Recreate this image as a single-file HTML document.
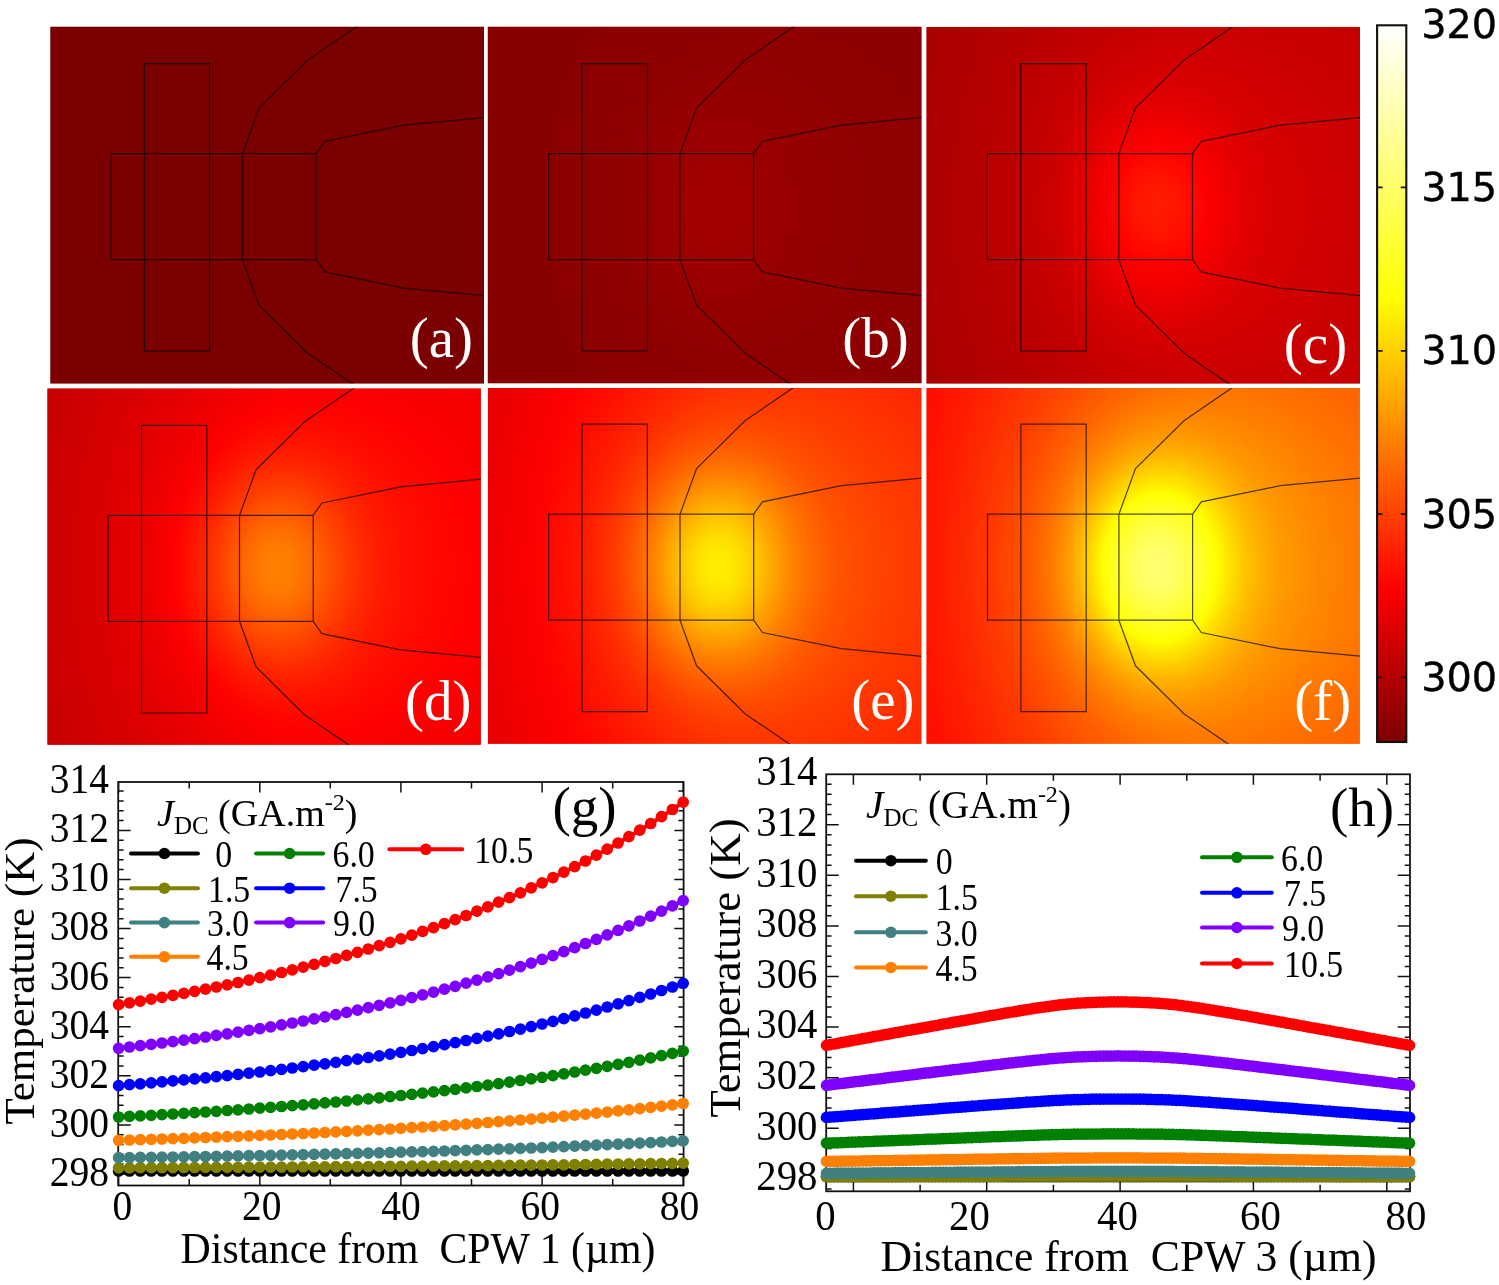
<!DOCTYPE html>
<html lang="en"><head><meta charset="utf-8"><title>Temperature maps</title><style>
html,body{margin:0;padding:0;background:#fff;overflow:hidden}
svg{display:block}
text{font-family:"Liberation Serif",serif;fill:#000}
.pl{font-size:57px;fill:#fff;text-anchor:middle}
.pg{font-size:55px}
.cb{font-family:"DejaVu Sans",sans-serif;font-size:39.8px;fill:#000;stroke:#000;stroke-width:0.4px}
.tl{font-size:39.5px}
.at{font-size:41.8px}
.yt{font-size:43px}
.tlh{font-size:40.8px}
.ath{font-size:43.65px}
.yth{font-size:44.8px}
.lth{font-size:39.2px}
.lt{font-size:38px}
.sub{font-size:25px}
.sup{font-size:24px}
.ll{font-size:33.8px}
</style></head><body>
<svg width="1499" height="1285" viewBox="0 0 1499 1285">
<rect width="1499" height="1285" fill="#fff"/>
<defs>
<linearGradient id="fb" gradientUnits="userSpaceOnUse" x1="-94.4" y1="0" x2="338.6" y2="0"><stop offset="0" stop-color="#434343"/><stop offset="1" stop-color="#656565"/></linearGradient>
<radialGradient id="f1" gradientUnits="userSpaceOnUse" cx="0" cy="0" r="1" gradientTransform="translate(171.4 142.9) scale(558.1 688.2)"><stop offset="0.0000" stop-color="#fff" stop-opacity="0.3720"/><stop offset="0.0417" stop-color="#fff" stop-opacity="0.3673"/><stop offset="0.0833" stop-color="#fff" stop-opacity="0.3536"/><stop offset="0.1250" stop-color="#fff" stop-opacity="0.3320"/><stop offset="0.1667" stop-color="#fff" stop-opacity="0.3038"/><stop offset="0.2083" stop-color="#fff" stop-opacity="0.2711"/><stop offset="0.2500" stop-color="#fff" stop-opacity="0.2359"/><stop offset="0.2917" stop-color="#fff" stop-opacity="0.2001"/><stop offset="0.3333" stop-color="#fff" stop-opacity="0.1655"/><stop offset="0.3750" stop-color="#fff" stop-opacity="0.1335"/><stop offset="0.4167" stop-color="#fff" stop-opacity="0.1049"/><stop offset="0.4583" stop-color="#fff" stop-opacity="0.0804"/><stop offset="0.5000" stop-color="#fff" stop-opacity="0.0601"/><stop offset="0.5417" stop-color="#fff" stop-opacity="0.0438"/><stop offset="0.5833" stop-color="#fff" stop-opacity="0.0311"/><stop offset="0.6250" stop-color="#fff" stop-opacity="0.0216"/><stop offset="0.6667" stop-color="#fff" stop-opacity="0.0146"/><stop offset="0.7083" stop-color="#fff" stop-opacity="0.0096"/><stop offset="0.7500" stop-color="#fff" stop-opacity="0.0062"/><stop offset="0.7917" stop-color="#fff" stop-opacity="0.0039"/><stop offset="0.8333" stop-color="#fff" stop-opacity="0.0024"/><stop offset="0.8750" stop-color="#fff" stop-opacity="0.0014"/><stop offset="0.9167" stop-color="#fff" stop-opacity="0.0008"/><stop offset="0.9583" stop-color="#fff" stop-opacity="0.0005"/><stop offset="1.0000" stop-color="#fff" stop-opacity="0.0000"/></radialGradient>
<radialGradient id="f2" gradientUnits="userSpaceOnUse" cx="0" cy="0" r="1" gradientTransform="translate(136.1 142.9) scale(186.0 242.2)"><stop offset="0.0000" stop-color="#fff" stop-opacity="0.9870"/><stop offset="0.0417" stop-color="#fff" stop-opacity="0.9746"/><stop offset="0.0833" stop-color="#fff" stop-opacity="0.9383"/><stop offset="0.1250" stop-color="#fff" stop-opacity="0.8807"/><stop offset="0.1667" stop-color="#fff" stop-opacity="0.8061"/><stop offset="0.2083" stop-color="#fff" stop-opacity="0.7193"/><stop offset="0.2500" stop-color="#fff" stop-opacity="0.6258"/><stop offset="0.2917" stop-color="#fff" stop-opacity="0.5309"/><stop offset="0.3333" stop-color="#fff" stop-opacity="0.4391"/><stop offset="0.3750" stop-color="#fff" stop-opacity="0.3541"/><stop offset="0.4167" stop-color="#fff" stop-opacity="0.2784"/><stop offset="0.4583" stop-color="#fff" stop-opacity="0.2134"/><stop offset="0.5000" stop-color="#fff" stop-opacity="0.1595"/><stop offset="0.5417" stop-color="#fff" stop-opacity="0.1163"/><stop offset="0.5833" stop-color="#fff" stop-opacity="0.0826"/><stop offset="0.6250" stop-color="#fff" stop-opacity="0.0572"/><stop offset="0.6667" stop-color="#fff" stop-opacity="0.0387"/><stop offset="0.7083" stop-color="#fff" stop-opacity="0.0255"/><stop offset="0.7500" stop-color="#fff" stop-opacity="0.0163"/><stop offset="0.7917" stop-color="#fff" stop-opacity="0.0102"/><stop offset="0.8333" stop-color="#fff" stop-opacity="0.0062"/><stop offset="0.8750" stop-color="#fff" stop-opacity="0.0037"/><stop offset="0.9167" stop-color="#fff" stop-opacity="0.0022"/><stop offset="0.9583" stop-color="#fff" stop-opacity="0.0012"/><stop offset="1.0000" stop-color="#fff" stop-opacity="0.0000"/></radialGradient>
<filter id="cm_a" x="0" y="0" width="100%" height="100%" color-interpolation-filters="sRGB"><feComponentTransfer><feFuncR type="table" tableValues="0.486 0.486 0.486 0.486 0.486 0.486 0.486 0.486 0.486 0.486 0.486 0.486 0.486 0.486 0.486 0.486 0.486 0.486 0.486 0.486 0.486 0.486 0.486 0.486 0.486 0.486 0.486 0.486 0.486 0.486 0.486 0.486 0.486 0.486 0.486 0.486 0.486 0.486 0.486 0.486 0.486 0.486 0.486 0.486 0.486 0.486 0.486 0.486 0.486 0.486 0.486 0.486 0.486 0.486 0.486 0.486 0.486 0.486 0.486 0.486 0.486 0.486 0.486 0.486 0.486"/><feFuncG type="table" tableValues="0.000 0.000 0.000 0.000 0.000 0.000 0.000 0.000 0.000 0.000 0.000 0.000 0.000 0.000 0.000 0.000 0.000 0.000 0.000 0.000 0.000 0.000 0.000 0.000 0.000 0.000 0.000 0.000 0.000 0.000 0.000 0.000 0.000 0.000 0.000 0.000 0.000 0.000 0.000 0.000 0.000 0.000 0.000 0.000 0.000 0.000 0.000 0.000 0.000 0.000 0.000 0.000 0.000 0.000 0.000 0.000 0.000 0.000 0.000 0.000 0.000 0.000 0.000 0.000 0.000"/><feFuncB type="table" tableValues="0.000 0.000 0.000 0.000 0.000 0.000 0.000 0.000 0.000 0.000 0.000 0.000 0.000 0.000 0.000 0.000 0.000 0.000 0.000 0.000 0.000 0.000 0.000 0.000 0.000 0.000 0.000 0.000 0.000 0.000 0.000 0.000 0.000 0.000 0.000 0.000 0.000 0.000 0.000 0.000 0.000 0.000 0.000 0.000 0.000 0.000 0.000 0.000 0.000 0.000 0.000 0.000 0.000 0.000 0.000 0.000 0.000 0.000 0.000 0.000 0.000 0.000 0.000 0.000 0.000"/></feComponentTransfer></filter>
<radialGradient id="ul_a" gradientUnits="userSpaceOnUse" cx="0" cy="0" r="1" gradientTransform="translate(280.6 206.5) scale(260.0 338.0)"><stop offset="0.000" stop-color="#7c0000"/><stop offset="0.050" stop-color="#7c0000"/><stop offset="0.100" stop-color="#7c0000"/><stop offset="0.150" stop-color="#7c0000"/><stop offset="0.200" stop-color="#7c0000"/><stop offset="0.250" stop-color="#7c0000"/><stop offset="0.300" stop-color="#7c0000"/><stop offset="0.350" stop-color="#7c0000"/><stop offset="0.400" stop-color="#7c0000"/><stop offset="0.450" stop-color="#7c0000"/><stop offset="0.500" stop-color="#7c0000"/><stop offset="0.550" stop-color="#7c0000"/><stop offset="0.600" stop-color="#7c0000"/><stop offset="0.650" stop-color="#7c0000"/><stop offset="0.700" stop-color="#7c0000"/><stop offset="0.750" stop-color="#7c0000"/><stop offset="0.800" stop-color="#7c0000"/><stop offset="0.850" stop-color="#7c0000"/><stop offset="0.900" stop-color="#7c0000"/><stop offset="0.950" stop-color="#7c0000"/><stop offset="1.000" stop-color="#7c0000"/></radialGradient>
<clipPath id="cp_a"><rect x="50.4" y="26.8" width="433.6" height="356.6"/></clipPath>
<filter id="cm_b" x="0" y="0" width="100%" height="100%" color-interpolation-filters="sRGB"><feComponentTransfer><feFuncR type="table" tableValues="0.486 0.489 0.491 0.494 0.496 0.498 0.501 0.503 0.506 0.508 0.510 0.513 0.515 0.518 0.520 0.522 0.525 0.527 0.530 0.532 0.535 0.537 0.539 0.542 0.544 0.547 0.549 0.551 0.554 0.556 0.559 0.561 0.564 0.566 0.568 0.571 0.573 0.576 0.578 0.580 0.583 0.585 0.588 0.590 0.592 0.595 0.597 0.600 0.602 0.605 0.607 0.609 0.612 0.614 0.617 0.619 0.621 0.624 0.626 0.629 0.631 0.634 0.636 0.638 0.641"/><feFuncG type="table" tableValues="0.000 0.000 0.000 0.000 0.000 0.000 0.000 0.000 0.000 0.000 0.000 0.000 0.000 0.000 0.000 0.000 0.000 0.000 0.000 0.000 0.000 0.000 0.000 0.000 0.000 0.000 0.000 0.000 0.000 0.000 0.000 0.000 0.000 0.000 0.000 0.000 0.000 0.000 0.000 0.000 0.000 0.000 0.000 0.000 0.000 0.000 0.000 0.000 0.000 0.000 0.000 0.000 0.000 0.000 0.000 0.000 0.000 0.000 0.000 0.000 0.000 0.000 0.000 0.000 0.000"/><feFuncB type="table" tableValues="0.000 0.000 0.000 0.000 0.000 0.000 0.000 0.000 0.000 0.000 0.000 0.000 0.000 0.000 0.000 0.000 0.000 0.000 0.000 0.000 0.000 0.000 0.000 0.000 0.000 0.000 0.000 0.000 0.000 0.000 0.000 0.000 0.000 0.000 0.000 0.000 0.000 0.000 0.000 0.000 0.000 0.000 0.000 0.000 0.000 0.000 0.000 0.000 0.000 0.000 0.000 0.000 0.000 0.000 0.000 0.000 0.000 0.000 0.000 0.000 0.000 0.000 0.000 0.000 0.000"/></feComponentTransfer></filter>
<radialGradient id="ul_b" gradientUnits="userSpaceOnUse" cx="0" cy="0" r="1" gradientTransform="translate(718.1 206.5) scale(260.0 338.0)"><stop offset="0.000" stop-color="#a30000"/><stop offset="0.050" stop-color="#a30000"/><stop offset="0.100" stop-color="#a10000"/><stop offset="0.150" stop-color="#9f0000"/><stop offset="0.200" stop-color="#9c0000"/><stop offset="0.250" stop-color="#990000"/><stop offset="0.300" stop-color="#960000"/><stop offset="0.350" stop-color="#940000"/><stop offset="0.400" stop-color="#920000"/><stop offset="0.450" stop-color="#910000"/><stop offset="0.500" stop-color="#900000"/><stop offset="0.550" stop-color="#8f0000"/><stop offset="0.600" stop-color="#8f0000"/><stop offset="0.650" stop-color="#8e0000"/><stop offset="0.700" stop-color="#8e0000"/><stop offset="0.750" stop-color="#8d0000"/><stop offset="0.800" stop-color="#8d0000"/><stop offset="0.850" stop-color="#8c0000"/><stop offset="0.900" stop-color="#8c0000"/><stop offset="0.950" stop-color="#8c0000"/><stop offset="1.000" stop-color="#8b0000"/></radialGradient>
<clipPath id="cp_b"><rect x="487.8" y="26.8" width="433.7" height="356.5"/></clipPath>
<filter id="cm_c" x="0" y="0" width="100%" height="100%" color-interpolation-filters="sRGB"><feComponentTransfer><feFuncR type="table" tableValues="0.486 0.496 0.506 0.515 0.525 0.535 0.544 0.554 0.564 0.573 0.583 0.592 0.602 0.612 0.621 0.631 0.641 0.650 0.660 0.670 0.679 0.689 0.699 0.708 0.718 0.728 0.737 0.747 0.757 0.766 0.776 0.786 0.795 0.805 0.815 0.824 0.834 0.844 0.853 0.863 0.873 0.882 0.892 0.902 0.911 0.921 0.930 0.940 0.950 0.959 0.969 0.979 0.988 0.998 1.000 1.000 1.000 1.000 1.000 1.000 1.000 1.000 1.000 1.000 1.000"/><feFuncG type="table" tableValues="0.000 0.000 0.000 0.000 0.000 0.000 0.000 0.000 0.000 0.000 0.000 0.000 0.000 0.000 0.000 0.000 0.000 0.000 0.000 0.000 0.000 0.000 0.000 0.000 0.000 0.000 0.000 0.000 0.000 0.000 0.000 0.000 0.000 0.000 0.000 0.000 0.000 0.000 0.000 0.000 0.000 0.000 0.000 0.000 0.000 0.000 0.000 0.000 0.000 0.000 0.000 0.000 0.000 0.000 0.008 0.018 0.028 0.038 0.048 0.059 0.069 0.079 0.089 0.099 0.109"/><feFuncB type="table" tableValues="0.000 0.000 0.000 0.000 0.000 0.000 0.000 0.000 0.000 0.000 0.000 0.000 0.000 0.000 0.000 0.000 0.000 0.000 0.000 0.000 0.000 0.000 0.000 0.000 0.000 0.000 0.000 0.000 0.000 0.000 0.000 0.000 0.000 0.000 0.000 0.000 0.000 0.000 0.000 0.000 0.000 0.000 0.000 0.000 0.000 0.000 0.000 0.000 0.000 0.000 0.000 0.000 0.000 0.000 0.000 0.000 0.000 0.000 0.000 0.000 0.000 0.000 0.000 0.000 0.000"/></feComponentTransfer></filter>
<radialGradient id="ul_c" gradientUnits="userSpaceOnUse" cx="0" cy="0" r="1" gradientTransform="translate(1156.9 206.5) scale(260.0 338.0)"><stop offset="0.000" stop-color="#ff1b00"/><stop offset="0.050" stop-color="#ff1800"/><stop offset="0.100" stop-color="#ff1200"/><stop offset="0.150" stop-color="#ff0800"/><stop offset="0.200" stop-color="#fb0000"/><stop offset="0.250" stop-color="#f00000"/><stop offset="0.300" stop-color="#e50000"/><stop offset="0.350" stop-color="#dd0000"/><stop offset="0.400" stop-color="#d60000"/><stop offset="0.450" stop-color="#d10000"/><stop offset="0.500" stop-color="#cd0000"/><stop offset="0.550" stop-color="#ca0000"/><stop offset="0.600" stop-color="#c70000"/><stop offset="0.650" stop-color="#c50000"/><stop offset="0.700" stop-color="#c30000"/><stop offset="0.750" stop-color="#c10000"/><stop offset="0.800" stop-color="#bf0000"/><stop offset="0.850" stop-color="#bd0000"/><stop offset="0.900" stop-color="#bc0000"/><stop offset="0.950" stop-color="#ba0000"/><stop offset="1.000" stop-color="#b90000"/></radialGradient>
<clipPath id="cp_c"><rect x="926.5" y="27.0" width="433.5" height="356.5"/></clipPath>
<filter id="cm_d" x="0" y="0" width="100%" height="100%" color-interpolation-filters="sRGB"><feComponentTransfer><feFuncR type="table" tableValues="0.486 0.502 0.518 0.533 0.549 0.565 0.580 0.596 0.612 0.628 0.643 0.659 0.675 0.690 0.706 0.722 0.737 0.753 0.769 0.784 0.800 0.816 0.831 0.847 0.863 0.879 0.894 0.910 0.926 0.941 0.957 0.973 0.988 1.000 1.000 1.000 1.000 1.000 1.000 1.000 1.000 1.000 1.000 1.000 1.000 1.000 1.000 1.000 1.000 1.000 1.000 1.000 1.000 1.000 1.000 1.000 1.000 1.000 1.000 1.000 1.000 1.000 1.000 1.000 1.000"/><feFuncG type="table" tableValues="0.000 0.000 0.000 0.000 0.000 0.000 0.000 0.000 0.000 0.000 0.000 0.000 0.000 0.000 0.000 0.000 0.000 0.000 0.000 0.000 0.000 0.000 0.000 0.000 0.000 0.000 0.000 0.000 0.000 0.000 0.000 0.000 0.000 0.004 0.021 0.037 0.053 0.070 0.086 0.103 0.119 0.135 0.152 0.168 0.185 0.201 0.217 0.234 0.250 0.267 0.283 0.299 0.316 0.332 0.349 0.365 0.381 0.398 0.414 0.431 0.447 0.463 0.480 0.496 0.513"/><feFuncB type="table" tableValues="0.000 0.000 0.000 0.000 0.000 0.000 0.000 0.000 0.000 0.000 0.000 0.000 0.000 0.000 0.000 0.000 0.000 0.000 0.000 0.000 0.000 0.000 0.000 0.000 0.000 0.000 0.000 0.000 0.000 0.000 0.000 0.000 0.000 0.000 0.000 0.000 0.000 0.000 0.000 0.000 0.000 0.000 0.000 0.000 0.000 0.000 0.000 0.000 0.000 0.000 0.000 0.000 0.000 0.000 0.000 0.000 0.000 0.000 0.000 0.000 0.000 0.000 0.000 0.000 0.000"/></feComponentTransfer></filter>
<radialGradient id="ul_d" gradientUnits="userSpaceOnUse" cx="0" cy="0" r="1" gradientTransform="translate(277.6 568.2) scale(260.0 338.0)"><stop offset="0.000" stop-color="#ff8100"/><stop offset="0.050" stop-color="#ff7d00"/><stop offset="0.100" stop-color="#ff7200"/><stop offset="0.150" stop-color="#ff6200"/><stop offset="0.200" stop-color="#ff4f00"/><stop offset="0.250" stop-color="#ff3c00"/><stop offset="0.300" stop-color="#ff2a00"/><stop offset="0.350" stop-color="#ff1b00"/><stop offset="0.400" stop-color="#ff1000"/><stop offset="0.450" stop-color="#ff0700"/><stop offset="0.500" stop-color="#ff0000"/><stop offset="0.550" stop-color="#fa0000"/><stop offset="0.600" stop-color="#f60000"/><stop offset="0.650" stop-color="#f20000"/><stop offset="0.700" stop-color="#ef0000"/><stop offset="0.750" stop-color="#ec0000"/><stop offset="0.800" stop-color="#e90000"/><stop offset="0.850" stop-color="#e60000"/><stop offset="0.900" stop-color="#e30000"/><stop offset="0.950" stop-color="#e10000"/><stop offset="1.000" stop-color="#df0000"/></radialGradient>
<clipPath id="cp_d"><rect x="47.4" y="388.5" width="433.4" height="356.3"/></clipPath>
<filter id="cm_e" x="0" y="0" width="100%" height="100%" color-interpolation-filters="sRGB"><feComponentTransfer><feFuncR type="table" tableValues="0.486 0.508 0.531 0.553 0.575 0.597 0.619 0.641 0.664 0.686 0.708 0.730 0.752 0.774 0.797 0.819 0.841 0.863 0.885 0.907 0.930 0.952 0.974 0.996 1.000 1.000 1.000 1.000 1.000 1.000 1.000 1.000 1.000 1.000 1.000 1.000 1.000 1.000 1.000 1.000 1.000 1.000 1.000 1.000 1.000 1.000 1.000 1.000 1.000 1.000 1.000 1.000 1.000 1.000 1.000 1.000 1.000 1.000 1.000 1.000 1.000 1.000 1.000 1.000 1.000"/><feFuncG type="table" tableValues="0.000 0.000 0.000 0.000 0.000 0.000 0.000 0.000 0.000 0.000 0.000 0.000 0.000 0.000 0.000 0.000 0.000 0.000 0.000 0.000 0.000 0.000 0.000 0.000 0.019 0.042 0.065 0.088 0.112 0.135 0.158 0.181 0.204 0.227 0.251 0.274 0.297 0.320 0.343 0.366 0.389 0.413 0.436 0.459 0.482 0.505 0.528 0.552 0.575 0.598 0.621 0.644 0.667 0.690 0.714 0.737 0.760 0.783 0.806 0.829 0.853 0.876 0.899 0.922 0.945"/><feFuncB type="table" tableValues="0.000 0.000 0.000 0.000 0.000 0.000 0.000 0.000 0.000 0.000 0.000 0.000 0.000 0.000 0.000 0.000 0.000 0.000 0.000 0.000 0.000 0.000 0.000 0.000 0.000 0.000 0.000 0.000 0.000 0.000 0.000 0.000 0.000 0.000 0.000 0.000 0.000 0.000 0.000 0.000 0.000 0.000 0.000 0.000 0.000 0.000 0.000 0.000 0.000 0.000 0.000 0.000 0.000 0.000 0.000 0.000 0.000 0.000 0.000 0.000 0.000 0.000 0.000 0.000 0.000"/></feComponentTransfer></filter>
<radialGradient id="ul_e" gradientUnits="userSpaceOnUse" cx="0" cy="0" r="1" gradientTransform="translate(718.1 567.1) scale(260.0 338.0)"><stop offset="0.000" stop-color="#ffef00"/><stop offset="0.050" stop-color="#ffe900"/><stop offset="0.100" stop-color="#ffda00"/><stop offset="0.150" stop-color="#ffc300"/><stop offset="0.200" stop-color="#ffa800"/><stop offset="0.250" stop-color="#ff8d00"/><stop offset="0.300" stop-color="#ff7400"/><stop offset="0.350" stop-color="#ff5f00"/><stop offset="0.400" stop-color="#ff4f00"/><stop offset="0.450" stop-color="#ff4200"/><stop offset="0.500" stop-color="#ff3900"/><stop offset="0.550" stop-color="#ff3100"/><stop offset="0.600" stop-color="#ff2b00"/><stop offset="0.650" stop-color="#ff2500"/><stop offset="0.700" stop-color="#ff2000"/><stop offset="0.750" stop-color="#ff1c00"/><stop offset="0.800" stop-color="#ff1700"/><stop offset="0.850" stop-color="#ff1300"/><stop offset="0.900" stop-color="#ff1000"/><stop offset="0.950" stop-color="#ff0c00"/><stop offset="1.000" stop-color="#ff0900"/></radialGradient>
<clipPath id="cp_e"><rect x="487.9" y="388.0" width="433.5" height="355.8"/></clipPath>
<filter id="cm_f" x="0" y="0" width="100%" height="100%" color-interpolation-filters="sRGB"><feComponentTransfer><feFuncR type="table" tableValues="0.486 0.516 0.545 0.575 0.605 0.634 0.664 0.693 0.723 0.752 0.782 0.812 0.841 0.871 0.900 0.930 0.959 0.989 1.000 1.000 1.000 1.000 1.000 1.000 1.000 1.000 1.000 1.000 1.000 1.000 1.000 1.000 1.000 1.000 1.000 1.000 1.000 1.000 1.000 1.000 1.000 1.000 1.000 1.000 1.000 1.000 1.000 1.000 1.000 1.000 1.000 1.000 1.000 1.000 1.000 1.000 1.000 1.000 1.000 1.000 1.000 1.000 1.000 1.000 1.000"/><feFuncG type="table" tableValues="0.000 0.000 0.000 0.000 0.000 0.000 0.000 0.000 0.000 0.000 0.000 0.000 0.000 0.000 0.000 0.000 0.000 0.000 0.019 0.050 0.081 0.112 0.143 0.174 0.205 0.236 0.267 0.297 0.328 0.359 0.390 0.421 0.452 0.483 0.514 0.545 0.576 0.606 0.637 0.668 0.699 0.730 0.761 0.792 0.823 0.854 0.885 0.915 0.946 0.977 1.000 1.000 1.000 1.000 1.000 1.000 1.000 1.000 1.000 1.000 1.000 1.000 1.000 1.000 1.000"/><feFuncB type="table" tableValues="0.000 0.000 0.000 0.000 0.000 0.000 0.000 0.000 0.000 0.000 0.000 0.000 0.000 0.000 0.000 0.000 0.000 0.000 0.000 0.000 0.000 0.000 0.000 0.000 0.000 0.000 0.000 0.000 0.000 0.000 0.000 0.000 0.000 0.000 0.000 0.000 0.000 0.000 0.000 0.000 0.000 0.000 0.000 0.000 0.000 0.000 0.000 0.000 0.000 0.000 0.009 0.041 0.074 0.106 0.139 0.171 0.204 0.236 0.269 0.302 0.334 0.367 0.399 0.432 0.464"/></feComponentTransfer></filter>
<radialGradient id="ul_f" gradientUnits="userSpaceOnUse" cx="0" cy="0" r="1" gradientTransform="translate(1157.0 567.1) scale(260.0 338.0)"><stop offset="0.000" stop-color="#ffff73"/><stop offset="0.050" stop-color="#ffff6c"/><stop offset="0.100" stop-color="#ffff56"/><stop offset="0.150" stop-color="#ffff35"/><stop offset="0.200" stop-color="#ffff0f"/><stop offset="0.250" stop-color="#ffe900"/><stop offset="0.300" stop-color="#ffc800"/><stop offset="0.350" stop-color="#ffad00"/><stop offset="0.400" stop-color="#ff9700"/><stop offset="0.450" stop-color="#ff8600"/><stop offset="0.500" stop-color="#ff7900"/><stop offset="0.550" stop-color="#ff6f00"/><stop offset="0.600" stop-color="#ff6700"/><stop offset="0.650" stop-color="#ff6000"/><stop offset="0.700" stop-color="#ff5900"/><stop offset="0.750" stop-color="#ff5300"/><stop offset="0.800" stop-color="#ff4d00"/><stop offset="0.850" stop-color="#ff4800"/><stop offset="0.900" stop-color="#ff4200"/><stop offset="0.950" stop-color="#ff3e00"/><stop offset="1.000" stop-color="#ff3a00"/></radialGradient>
<clipPath id="cp_f"><rect x="926.5" y="388.1" width="433.3" height="355.7"/></clipPath>
<g id="fld"><rect x="-120" y="-60" width="520" height="420" fill="url(#fb)"/><rect x="-120" y="-60" width="520" height="420" fill="url(#f1)"/><rect x="-120" y="-60" width="520" height="420" fill="url(#f2)"/></g>
<path id="art" d="M0 0H65.3V287.5H0Z M-33.4 90H171.7V196H-33.4Z M98 90V196 M98 90L114.6 44.4L163.3 -3.7L215 -39 M98 196L114.6 241.6L163.3 289.7L215 325 M171.7 90L180.4 77.7L259.3 61.5L345 53.4 M171.7 196L180.4 208.3L259.3 224.5L345 232.6" fill="none" stroke="#000" stroke-opacity="0.68" stroke-width="1.25"/>
</defs>
<g clip-path="url(#cp_a)">
<rect x="50.4" y="26.8" width="433.6" height="356.6" fill="url(#ul_a)"/>
<g filter="url(#cm_a)"><use href="#fld" transform="translate(144.5 63.6)"/></g>
<use href="#art" transform="translate(144.5 63.6)"/>
</g>
<text x="441.3" y="356.6" class="pl">(a)</text>
<g clip-path="url(#cp_b)">
<rect x="487.8" y="26.8" width="433.7" height="356.5" fill="url(#ul_b)"/>
<g filter="url(#cm_b)"><use href="#fld" transform="translate(582.0 63.6)"/></g>
<use href="#art" transform="translate(582.0 63.6)"/>
</g>
<text x="875.5" y="356.7" class="pl">(b)</text>
<g clip-path="url(#cp_c)">
<rect x="926.5" y="27.0" width="433.5" height="356.5" fill="url(#ul_c)"/>
<g filter="url(#cm_c)"><use href="#fld" transform="translate(1020.8 63.6)"/></g>
<use href="#art" transform="translate(1020.8 63.6)"/>
</g>
<text x="1315.5" y="363.1" class="pl">(c)</text>
<g clip-path="url(#cp_d)">
<rect x="47.4" y="388.5" width="433.4" height="356.3" fill="url(#ul_d)"/>
<g filter="url(#cm_d)"><use href="#fld" transform="translate(141.5 425.3)"/></g>
<use href="#art" transform="translate(141.5 425.3)"/>
</g>
<text x="438.3" y="719.7" class="pl">(d)</text>
<g clip-path="url(#cp_e)">
<rect x="487.9" y="388.0" width="433.5" height="355.8" fill="url(#ul_e)"/>
<g filter="url(#cm_e)"><use href="#fld" transform="translate(582.0 424.2)"/></g>
<use href="#art" transform="translate(582.0 424.2)"/>
</g>
<text x="882.9" y="718.9" class="pl">(e)</text>
<g clip-path="url(#cp_f)">
<rect x="926.5" y="388.1" width="433.3" height="355.7" fill="url(#ul_f)"/>
<g filter="url(#cm_f)"><use href="#fld" transform="translate(1020.9 424.2)"/></g>
<use href="#art" transform="translate(1020.9 424.2)"/>
</g>
<text x="1322.8" y="719.9" class="pl">(f)</text>
<defs><linearGradient id="cbg" gradientUnits="userSpaceOnUse" x1="0" y1="25.3" x2="0" y2="742.0"><stop offset="0.0000" stop-color="#ffffff"/><stop offset="0.3812" stop-color="#ffff00"/><stop offset="0.7846" stop-color="#ff0000"/><stop offset="1.0000" stop-color="#7c0000"/></linearGradient></defs>
<rect x="1377.1" y="25.3" width="29.2" height="716.7" fill="url(#cbg)" stroke="#111" stroke-width="2.1"/>
<path d="M1377.1 677.5h5.5M1406.3 677.5h-5.5" stroke="#111" stroke-width="1.7"/>
<path d="M1377.1 514.2h5.5M1406.3 514.2h-5.5" stroke="#111" stroke-width="1.7"/>
<path d="M1377.1 350.8h5.5M1406.3 350.8h-5.5" stroke="#111" stroke-width="1.7"/>
<path d="M1377.1 187.4h5.5M1406.3 187.4h-5.5" stroke="#111" stroke-width="1.7"/>
<text transform="translate(1421.2 690.7) scale(1 0.965)" class="cb">300</text>
<text transform="translate(1421.2 527.5) scale(1 0.965)" class="cb">305</text>
<text transform="translate(1421.2 364.2) scale(1 0.965)" class="cb">310</text>
<text transform="translate(1421.2 200.9) scale(1 0.965)" class="cb">315</text>
<text transform="translate(1421.2 37.7) scale(1 0.965)" class="cb">320</text>
<rect x="118.2" y="782.0" width="565.4" height="403.5" fill="none" stroke="#111" stroke-width="1.8"/>
<path d="M118.6 782.0v10.5M118.6 1185.5v-10.5M189.2 782.0v6.5M189.2 1185.5v-6.5M259.8 782.0v10.5M259.8 1185.5v-10.5M330.3 782.0v6.5M330.3 1185.5v-6.5M400.9 782.0v10.5M400.9 1185.5v-10.5M471.5 782.0v6.5M471.5 1185.5v-6.5M542.1 782.0v10.5M542.1 1185.5v-10.5M612.7 782.0v6.5M612.7 1185.5v-6.5M683.2 782.0v10.5M683.2 1185.5v-10.5M118.2 1173.9h12.5M683.6 1173.9h-9.3M118.2 1164.1h5.4M683.6 1164.1h-5.2M118.2 1154.3h5.4M683.6 1154.3h-5.2M118.2 1144.5h5.4M683.6 1144.5h-5.2M118.2 1134.7h5.4M683.6 1134.7h-5.2M118.2 1124.9h12.5M683.6 1124.9h-9.3M118.2 1115.0h5.4M683.6 1115.0h-5.2M118.2 1105.2h5.4M683.6 1105.2h-5.2M118.2 1095.4h5.4M683.6 1095.4h-5.2M118.2 1085.6h5.4M683.6 1085.6h-5.2M118.2 1075.8h12.5M683.6 1075.8h-9.3M118.2 1066.0h5.4M683.6 1066.0h-5.2M118.2 1056.1h5.4M683.6 1056.1h-5.2M118.2 1046.3h5.4M683.6 1046.3h-5.2M118.2 1036.5h5.4M683.6 1036.5h-5.2M118.2 1026.7h12.5M683.6 1026.7h-9.3M118.2 1016.9h5.4M683.6 1016.9h-5.2M118.2 1007.1h5.4M683.6 1007.1h-5.2M118.2 997.3h5.4M683.6 997.3h-5.2M118.2 987.4h5.4M683.6 987.4h-5.2M118.2 977.6h12.5M683.6 977.6h-9.3M118.2 967.8h5.4M683.6 967.8h-5.2M118.2 958.0h5.4M683.6 958.0h-5.2M118.2 948.2h5.4M683.6 948.2h-5.2M118.2 938.4h5.4M683.6 938.4h-5.2M118.2 928.5h12.5M683.6 928.5h-9.3M118.2 918.7h5.4M683.6 918.7h-5.2M118.2 908.9h5.4M683.6 908.9h-5.2M118.2 899.1h5.4M683.6 899.1h-5.2M118.2 889.3h5.4M683.6 889.3h-5.2M118.2 879.5h12.5M683.6 879.5h-9.3M118.2 869.6h5.4M683.6 869.6h-5.2M118.2 859.8h5.4M683.6 859.8h-5.2M118.2 850.0h5.4M683.6 850.0h-5.2M118.2 840.2h5.4M683.6 840.2h-5.2M118.2 830.4h12.5M683.6 830.4h-9.3M118.2 820.6h5.4M683.6 820.6h-5.2M118.2 810.7h5.4M683.6 810.7h-5.2M118.2 800.9h5.4M683.6 800.9h-5.2M118.2 791.1h5.4M683.6 791.1h-5.2" fill="none" stroke="#111" stroke-width="1.5"/>
<g>
<path d="M118.6 1171.0L129.5 1171.0L140.3 1171.0L151.2 1171.0L162.0 1171.0L172.9 1171.0L183.8 1171.0L194.6 1171.0L205.5 1171.0L216.3 1171.0L227.2 1171.0L238.0 1171.0L248.9 1171.0L259.8 1171.0L270.6 1171.0L281.5 1171.0L292.3 1171.0L303.2 1171.0L314.1 1171.0L324.9 1171.0L335.8 1171.0L346.6 1171.0L357.5 1171.0L368.3 1171.0L379.2 1171.0L390.1 1171.0L400.9 1171.0L411.8 1171.0L422.6 1171.0L433.5 1171.0L444.4 1171.0L455.2 1171.0L466.1 1171.0L476.9 1171.0L487.8 1171.0L498.6 1171.0L509.5 1171.0L520.4 1171.0L531.2 1171.0L542.1 1171.0L552.9 1171.0L563.8 1171.0L574.7 1171.0L585.5 1171.0L596.4 1171.0L607.2 1171.0L618.1 1171.0L628.9 1171.0L639.8 1171.0L650.7 1171.0L661.5 1171.0L672.4 1171.0L683.2 1171.0" fill="none" stroke="#000000" stroke-width="4.0" stroke-linejoin="round" stroke-linecap="round"/>
<path d="M118.6 1171.0h0M129.5 1171.0h0M140.3 1171.0h0M151.2 1171.0h0M162.0 1171.0h0M172.9 1171.0h0M183.8 1171.0h0M194.6 1171.0h0M205.5 1171.0h0M216.3 1171.0h0M227.2 1171.0h0M238.0 1171.0h0M248.9 1171.0h0M259.8 1171.0h0M270.6 1171.0h0M281.5 1171.0h0M292.3 1171.0h0M303.2 1171.0h0M314.1 1171.0h0M324.9 1171.0h0M335.8 1171.0h0M346.6 1171.0h0M357.5 1171.0h0M368.3 1171.0h0M379.2 1171.0h0M390.1 1171.0h0M400.9 1171.0h0M411.8 1171.0h0M422.6 1171.0h0M433.5 1171.0h0M444.4 1171.0h0M455.2 1171.0h0M466.1 1171.0h0M476.9 1171.0h0M487.8 1171.0h0M498.6 1171.0h0M509.5 1171.0h0M520.4 1171.0h0M531.2 1171.0h0M542.1 1171.0h0M552.9 1171.0h0M563.8 1171.0h0M574.7 1171.0h0M585.5 1171.0h0M596.4 1171.0h0M607.2 1171.0h0M618.1 1171.0h0M628.9 1171.0h0M639.8 1171.0h0M650.7 1171.0h0M661.5 1171.0h0M672.4 1171.0h0M683.2 1171.0h0" fill="none" stroke="#000000" stroke-width="11.7" stroke-linecap="round"/>
<path d="M118.6 1167.8L129.5 1167.8L140.3 1167.7L151.2 1167.7L162.0 1167.6L172.9 1167.6L183.8 1167.5L194.6 1167.5L205.5 1167.4L216.3 1167.4L227.2 1167.3L238.0 1167.3L248.9 1167.2L259.8 1167.2L270.6 1167.1L281.5 1167.1L292.3 1167.0L303.2 1166.9L314.1 1166.9L324.9 1166.8L335.8 1166.7L346.6 1166.7L357.5 1166.6L368.3 1166.5L379.2 1166.4L390.1 1166.4L400.9 1166.3L411.8 1166.2L422.6 1166.1L433.5 1166.0L444.4 1165.9L455.2 1165.8L466.1 1165.8L476.9 1165.7L487.8 1165.6L498.6 1165.4L509.5 1165.3L520.4 1165.2L531.2 1165.1L542.1 1165.0L552.9 1164.9L563.8 1164.8L574.7 1164.6L585.5 1164.5L596.4 1164.4L607.2 1164.2L618.1 1164.1L628.9 1163.9L639.8 1163.8L650.7 1163.6L661.5 1163.5L672.4 1163.3L683.2 1163.1" fill="none" stroke="#808000" stroke-width="4.0" stroke-linejoin="round" stroke-linecap="round"/>
<path d="M118.6 1167.8h0M129.5 1167.8h0M140.3 1167.7h0M151.2 1167.7h0M162.0 1167.6h0M172.9 1167.6h0M183.8 1167.5h0M194.6 1167.5h0M205.5 1167.4h0M216.3 1167.4h0M227.2 1167.3h0M238.0 1167.3h0M248.9 1167.2h0M259.8 1167.2h0M270.6 1167.1h0M281.5 1167.1h0M292.3 1167.0h0M303.2 1166.9h0M314.1 1166.9h0M324.9 1166.8h0M335.8 1166.7h0M346.6 1166.7h0M357.5 1166.6h0M368.3 1166.5h0M379.2 1166.4h0M390.1 1166.4h0M400.9 1166.3h0M411.8 1166.2h0M422.6 1166.1h0M433.5 1166.0h0M444.4 1165.9h0M455.2 1165.8h0M466.1 1165.8h0M476.9 1165.7h0M487.8 1165.6h0M498.6 1165.4h0M509.5 1165.3h0M520.4 1165.2h0M531.2 1165.1h0M542.1 1165.0h0M552.9 1164.9h0M563.8 1164.8h0M574.7 1164.6h0M585.5 1164.5h0M596.4 1164.4h0M607.2 1164.2h0M618.1 1164.1h0M628.9 1163.9h0M639.8 1163.8h0M650.7 1163.6h0M661.5 1163.5h0M672.4 1163.3h0M683.2 1163.1h0" fill="none" stroke="#808000" stroke-width="11.7" stroke-linecap="round"/>
<path d="M118.6 1157.7L129.5 1157.6L140.3 1157.4L151.2 1157.3L162.0 1157.1L172.9 1157.0L183.8 1156.8L194.6 1156.6L205.5 1156.5L216.3 1156.3L227.2 1156.1L238.0 1155.9L248.9 1155.7L259.8 1155.5L270.6 1155.3L281.5 1155.1L292.3 1154.8L303.2 1154.6L314.1 1154.4L324.9 1154.1L335.8 1153.9L346.6 1153.6L357.5 1153.4L368.3 1153.1L379.2 1152.8L390.1 1152.5L400.9 1152.2L411.8 1151.9L422.6 1151.6L433.5 1151.3L444.4 1151.0L455.2 1150.6L466.1 1150.3L476.9 1149.9L487.8 1149.6L498.6 1149.2L509.5 1148.8L520.4 1148.4L531.2 1148.0L542.1 1147.6L552.9 1147.1L563.8 1146.7L574.7 1146.2L585.5 1145.7L596.4 1145.2L607.2 1144.7L618.1 1144.2L628.9 1143.7L639.8 1143.2L650.7 1142.6L661.5 1142.0L672.4 1141.4L683.2 1140.8" fill="none" stroke="#408080" stroke-width="4.0" stroke-linejoin="round" stroke-linecap="round"/>
<path d="M118.6 1157.7h0M129.5 1157.6h0M140.3 1157.4h0M151.2 1157.3h0M162.0 1157.1h0M172.9 1157.0h0M183.8 1156.8h0M194.6 1156.6h0M205.5 1156.5h0M216.3 1156.3h0M227.2 1156.1h0M238.0 1155.9h0M248.9 1155.7h0M259.8 1155.5h0M270.6 1155.3h0M281.5 1155.1h0M292.3 1154.8h0M303.2 1154.6h0M314.1 1154.4h0M324.9 1154.1h0M335.8 1153.9h0M346.6 1153.6h0M357.5 1153.4h0M368.3 1153.1h0M379.2 1152.8h0M390.1 1152.5h0M400.9 1152.2h0M411.8 1151.9h0M422.6 1151.6h0M433.5 1151.3h0M444.4 1151.0h0M455.2 1150.6h0M466.1 1150.3h0M476.9 1149.9h0M487.8 1149.6h0M498.6 1149.2h0M509.5 1148.8h0M520.4 1148.4h0M531.2 1148.0h0M542.1 1147.6h0M552.9 1147.1h0M563.8 1146.7h0M574.7 1146.2h0M585.5 1145.7h0M596.4 1145.2h0M607.2 1144.7h0M618.1 1144.2h0M628.9 1143.7h0M639.8 1143.2h0M650.7 1142.6h0M661.5 1142.0h0M672.4 1141.4h0M683.2 1140.8h0" fill="none" stroke="#408080" stroke-width="11.7" stroke-linecap="round"/>
<path d="M118.6 1140.3L129.5 1140.0L140.3 1139.7L151.2 1139.3L162.0 1139.0L172.9 1138.6L183.8 1138.3L194.6 1137.9L205.5 1137.5L216.3 1137.1L227.2 1136.7L238.0 1136.3L248.9 1135.9L259.8 1135.4L270.6 1135.0L281.5 1134.5L292.3 1134.0L303.2 1133.5L314.1 1133.0L324.9 1132.5L335.8 1131.9L346.6 1131.4L357.5 1130.8L368.3 1130.2L379.2 1129.6L390.1 1129.0L400.9 1128.3L411.8 1127.7L422.6 1127.0L433.5 1126.3L444.4 1125.6L455.2 1124.9L466.1 1124.1L476.9 1123.3L487.8 1122.5L498.6 1121.7L509.5 1120.9L520.4 1120.0L531.2 1119.1L542.1 1118.2L552.9 1117.2L563.8 1116.2L574.7 1115.2L585.5 1114.2L596.4 1113.2L607.2 1112.1L618.1 1110.9L628.9 1109.8L639.8 1108.6L650.7 1107.4L661.5 1106.1L672.4 1104.8L683.2 1103.5" fill="none" stroke="#ff8000" stroke-width="4.0" stroke-linejoin="round" stroke-linecap="round"/>
<path d="M118.6 1140.3h0M129.5 1140.0h0M140.3 1139.7h0M151.2 1139.3h0M162.0 1139.0h0M172.9 1138.6h0M183.8 1138.3h0M194.6 1137.9h0M205.5 1137.5h0M216.3 1137.1h0M227.2 1136.7h0M238.0 1136.3h0M248.9 1135.9h0M259.8 1135.4h0M270.6 1135.0h0M281.5 1134.5h0M292.3 1134.0h0M303.2 1133.5h0M314.1 1133.0h0M324.9 1132.5h0M335.8 1131.9h0M346.6 1131.4h0M357.5 1130.8h0M368.3 1130.2h0M379.2 1129.6h0M390.1 1129.0h0M400.9 1128.3h0M411.8 1127.7h0M422.6 1127.0h0M433.5 1126.3h0M444.4 1125.6h0M455.2 1124.9h0M466.1 1124.1h0M476.9 1123.3h0M487.8 1122.5h0M498.6 1121.7h0M509.5 1120.9h0M520.4 1120.0h0M531.2 1119.1h0M542.1 1118.2h0M552.9 1117.2h0M563.8 1116.2h0M574.7 1115.2h0M585.5 1114.2h0M596.4 1113.2h0M607.2 1112.1h0M618.1 1110.9h0M628.9 1109.8h0M639.8 1108.6h0M650.7 1107.4h0M661.5 1106.1h0M672.4 1104.8h0M683.2 1103.5h0" fill="none" stroke="#ff8000" stroke-width="11.7" stroke-linecap="round"/>
<path d="M118.6 1117.0L129.5 1116.4L140.3 1115.9L151.2 1115.3L162.0 1114.6L172.9 1114.0L183.8 1113.3L194.6 1112.7L205.5 1112.0L216.3 1111.3L227.2 1110.5L238.0 1109.8L248.9 1109.0L259.8 1108.2L270.6 1107.4L281.5 1106.5L292.3 1105.7L303.2 1104.8L314.1 1103.9L324.9 1102.9L335.8 1102.0L346.6 1101.0L357.5 1099.9L368.3 1098.9L379.2 1097.8L390.1 1096.7L400.9 1095.5L411.8 1094.4L422.6 1093.1L433.5 1091.9L444.4 1090.6L455.2 1089.3L466.1 1087.9L476.9 1086.5L487.8 1085.1L498.6 1083.6L509.5 1082.1L520.4 1080.5L531.2 1078.9L542.1 1077.3L552.9 1075.6L563.8 1073.8L574.7 1072.0L585.5 1070.2L596.4 1068.3L607.2 1066.3L618.1 1064.3L628.9 1062.3L639.8 1060.1L650.7 1057.9L661.5 1055.7L672.4 1053.4L683.2 1051.0" fill="none" stroke="#008000" stroke-width="4.0" stroke-linejoin="round" stroke-linecap="round"/>
<path d="M118.6 1117.0h0M129.5 1116.4h0M140.3 1115.9h0M151.2 1115.3h0M162.0 1114.6h0M172.9 1114.0h0M183.8 1113.3h0M194.6 1112.7h0M205.5 1112.0h0M216.3 1111.3h0M227.2 1110.5h0M238.0 1109.8h0M248.9 1109.0h0M259.8 1108.2h0M270.6 1107.4h0M281.5 1106.5h0M292.3 1105.7h0M303.2 1104.8h0M314.1 1103.9h0M324.9 1102.9h0M335.8 1102.0h0M346.6 1101.0h0M357.5 1099.9h0M368.3 1098.9h0M379.2 1097.8h0M390.1 1096.7h0M400.9 1095.5h0M411.8 1094.4h0M422.6 1093.1h0M433.5 1091.9h0M444.4 1090.6h0M455.2 1089.3h0M466.1 1087.9h0M476.9 1086.5h0M487.8 1085.1h0M498.6 1083.6h0M509.5 1082.1h0M520.4 1080.5h0M531.2 1078.9h0M542.1 1077.3h0M552.9 1075.6h0M563.8 1073.8h0M574.7 1072.0h0M585.5 1070.2h0M596.4 1068.3h0M607.2 1066.3h0M618.1 1064.3h0M628.9 1062.3h0M639.8 1060.1h0M650.7 1057.9h0M661.5 1055.7h0M672.4 1053.4h0M683.2 1051.0h0" fill="none" stroke="#008000" stroke-width="11.7" stroke-linecap="round"/>
<path d="M118.6 1085.6L129.5 1084.7L140.3 1083.8L151.2 1082.9L162.0 1081.9L172.9 1080.9L183.8 1079.9L194.6 1078.9L205.5 1077.8L216.3 1076.7L227.2 1075.6L238.0 1074.4L248.9 1073.2L259.8 1072.0L270.6 1070.7L281.5 1069.4L292.3 1068.0L303.2 1066.7L314.1 1065.2L324.9 1063.8L335.8 1062.3L346.6 1060.7L357.5 1059.1L368.3 1057.5L379.2 1055.8L390.1 1054.1L400.9 1052.3L411.8 1050.5L422.6 1048.6L433.5 1046.7L444.4 1044.7L455.2 1042.6L466.1 1040.5L476.9 1038.4L487.8 1036.1L498.6 1033.9L509.5 1031.5L520.4 1029.1L531.2 1026.6L542.1 1024.0L552.9 1021.4L563.8 1018.7L574.7 1015.9L585.5 1013.0L596.4 1010.1L607.2 1007.0L618.1 1003.9L628.9 1000.7L639.8 997.4L650.7 994.0L661.5 990.5L672.4 987.0L683.2 983.3" fill="none" stroke="#0000ff" stroke-width="4.0" stroke-linejoin="round" stroke-linecap="round"/>
<path d="M118.6 1085.6h0M129.5 1084.7h0M140.3 1083.8h0M151.2 1082.9h0M162.0 1081.9h0M172.9 1080.9h0M183.8 1079.9h0M194.6 1078.9h0M205.5 1077.8h0M216.3 1076.7h0M227.2 1075.6h0M238.0 1074.4h0M248.9 1073.2h0M259.8 1072.0h0M270.6 1070.7h0M281.5 1069.4h0M292.3 1068.0h0M303.2 1066.7h0M314.1 1065.2h0M324.9 1063.8h0M335.8 1062.3h0M346.6 1060.7h0M357.5 1059.1h0M368.3 1057.5h0M379.2 1055.8h0M390.1 1054.1h0M400.9 1052.3h0M411.8 1050.5h0M422.6 1048.6h0M433.5 1046.7h0M444.4 1044.7h0M455.2 1042.6h0M466.1 1040.5h0M476.9 1038.4h0M487.8 1036.1h0M498.6 1033.9h0M509.5 1031.5h0M520.4 1029.1h0M531.2 1026.6h0M542.1 1024.0h0M552.9 1021.4h0M563.8 1018.7h0M574.7 1015.9h0M585.5 1013.0h0M596.4 1010.1h0M607.2 1007.0h0M618.1 1003.9h0M628.9 1000.7h0M639.8 997.4h0M650.7 994.0h0M661.5 990.5h0M672.4 987.0h0M683.2 983.3h0" fill="none" stroke="#0000ff" stroke-width="11.7" stroke-linecap="round"/>
<path d="M118.6 1048.3L129.5 1047.0L140.3 1045.7L151.2 1044.4L162.0 1043.0L172.9 1041.6L183.8 1040.1L194.6 1038.6L205.5 1037.0L216.3 1035.4L227.2 1033.8L238.0 1032.1L248.9 1030.4L259.8 1028.6L270.6 1026.8L281.5 1024.9L292.3 1023.0L303.2 1021.0L314.1 1018.9L324.9 1016.8L335.8 1014.6L346.6 1012.4L357.5 1010.1L368.3 1007.7L379.2 1005.3L390.1 1002.8L400.9 1000.3L411.8 997.6L422.6 994.9L433.5 992.1L444.4 989.2L455.2 986.3L466.1 983.2L476.9 980.1L487.8 976.9L498.6 973.6L509.5 970.2L520.4 966.7L531.2 963.1L542.1 959.4L552.9 955.6L563.8 951.7L574.7 947.7L585.5 943.5L596.4 939.3L607.2 934.9L618.1 930.4L628.9 925.8L639.8 921.0L650.7 916.1L661.5 911.1L672.4 905.9L683.2 900.6" fill="none" stroke="#8000ff" stroke-width="4.0" stroke-linejoin="round" stroke-linecap="round"/>
<path d="M118.6 1048.3h0M129.5 1047.0h0M140.3 1045.7h0M151.2 1044.4h0M162.0 1043.0h0M172.9 1041.6h0M183.8 1040.1h0M194.6 1038.6h0M205.5 1037.0h0M216.3 1035.4h0M227.2 1033.8h0M238.0 1032.1h0M248.9 1030.4h0M259.8 1028.6h0M270.6 1026.8h0M281.5 1024.9h0M292.3 1023.0h0M303.2 1021.0h0M314.1 1018.9h0M324.9 1016.8h0M335.8 1014.6h0M346.6 1012.4h0M357.5 1010.1h0M368.3 1007.7h0M379.2 1005.3h0M390.1 1002.8h0M400.9 1000.3h0M411.8 997.6h0M422.6 994.9h0M433.5 992.1h0M444.4 989.2h0M455.2 986.3h0M466.1 983.2h0M476.9 980.1h0M487.8 976.9h0M498.6 973.6h0M509.5 970.2h0M520.4 966.7h0M531.2 963.1h0M542.1 959.4h0M552.9 955.6h0M563.8 951.7h0M574.7 947.7h0M585.5 943.5h0M596.4 939.3h0M607.2 934.9h0M618.1 930.4h0M628.9 925.8h0M639.8 921.0h0M650.7 916.1h0M661.5 911.1h0M672.4 905.9h0M683.2 900.6h0" fill="none" stroke="#8000ff" stroke-width="11.7" stroke-linecap="round"/>
<path d="M118.6 1004.6L129.5 1002.9L140.3 1001.1L151.2 999.2L162.0 997.3L172.9 995.4L183.8 993.4L194.6 991.3L205.5 989.2L216.3 987.0L227.2 984.8L238.0 982.5L248.9 980.1L259.8 977.6L270.6 975.1L281.5 972.5L292.3 969.9L303.2 967.1L314.1 964.3L324.9 961.4L335.8 958.5L346.6 955.4L357.5 952.3L368.3 949.0L379.2 945.7L390.1 942.3L400.9 938.8L411.8 935.2L422.6 931.4L433.5 927.6L444.4 923.7L455.2 919.6L466.1 915.5L476.9 911.2L487.8 906.8L498.6 902.2L509.5 897.6L520.4 892.8L531.2 887.9L542.1 882.8L552.9 877.6L563.8 872.2L574.7 866.7L585.5 861.0L596.4 855.2L607.2 849.2L618.1 843.0L628.9 836.7L639.8 830.2L650.7 823.5L661.5 816.6L672.4 809.5L683.2 802.2" fill="none" stroke="#ff0000" stroke-width="4.0" stroke-linejoin="round" stroke-linecap="round"/>
<path d="M118.6 1004.6h0M129.5 1002.9h0M140.3 1001.1h0M151.2 999.2h0M162.0 997.3h0M172.9 995.4h0M183.8 993.4h0M194.6 991.3h0M205.5 989.2h0M216.3 987.0h0M227.2 984.8h0M238.0 982.5h0M248.9 980.1h0M259.8 977.6h0M270.6 975.1h0M281.5 972.5h0M292.3 969.9h0M303.2 967.1h0M314.1 964.3h0M324.9 961.4h0M335.8 958.5h0M346.6 955.4h0M357.5 952.3h0M368.3 949.0h0M379.2 945.7h0M390.1 942.3h0M400.9 938.8h0M411.8 935.2h0M422.6 931.4h0M433.5 927.6h0M444.4 923.7h0M455.2 919.6h0M466.1 915.5h0M476.9 911.2h0M487.8 906.8h0M498.6 902.2h0M509.5 897.6h0M520.4 892.8h0M531.2 887.9h0M542.1 882.8h0M552.9 877.6h0M563.8 872.2h0M574.7 866.7h0M585.5 861.0h0M596.4 855.2h0M607.2 849.2h0M618.1 843.0h0M628.9 836.7h0M639.8 830.2h0M650.7 823.5h0M661.5 816.6h0M672.4 809.5h0M683.2 802.2h0" fill="none" stroke="#ff0000" stroke-width="11.7" stroke-linecap="round"/>
</g>
<text transform="translate(109.0 1185.8) scale(1 1.075)" class="tl" text-anchor="end">298</text>
<text transform="translate(109.0 1136.8) scale(1 1.075)" class="tl" text-anchor="end">300</text>
<text transform="translate(109.0 1087.7) scale(1 1.075)" class="tl" text-anchor="end">302</text>
<text transform="translate(109.0 1038.6) scale(1 1.075)" class="tl" text-anchor="end">304</text>
<text transform="translate(109.0 989.5) scale(1 1.075)" class="tl" text-anchor="end">306</text>
<text transform="translate(109.0 940.4) scale(1 1.075)" class="tl" text-anchor="end">308</text>
<text transform="translate(109.0 891.4) scale(1 1.075)" class="tl" text-anchor="end">310</text>
<text transform="translate(109.0 842.3) scale(1 1.075)" class="tl" text-anchor="end">312</text>
<text transform="translate(109.0 793.2) scale(1 1.075)" class="tl" text-anchor="end">314</text>
<text transform="translate(122.4 1220.4) scale(1 1.075)" class="tl" text-anchor="middle">0</text>
<text transform="translate(261.7 1220.4) scale(1 1.075)" class="tl" text-anchor="middle">20</text>
<text transform="translate(401.0 1220.4) scale(1 1.075)" class="tl" text-anchor="middle">40</text>
<text transform="translate(540.3 1220.4) scale(1 1.075)" class="tl" text-anchor="middle">60</text>
<text transform="translate(679.6 1220.4) scale(1 1.075)" class="tl" text-anchor="middle">80</text>
<text transform="translate(34.0 981.0) rotate(-90)" class="yt" text-anchor="middle">Temperature (K)</text>
<text transform="translate(418.0 1263.0) scale(1 1.036)" class="at" text-anchor="middle" xml:space="preserve" style="white-space:pre">Distance from  CPW 1 (µm)</text>
<text transform="translate(552.5 825.0)" class="pg">(g)</text>
<text transform="translate(157.0 825.5)" class="lt"><tspan font-style="italic">J</tspan><tspan class="sub" dy="8.4">DC</tspan><tspan dy="-8.4"> (GA.m</tspan><tspan class="sup" dy="-15.9">-2</tspan><tspan dy="15.9">)</tspan></text>
<path d="M131.0 853.5H197.9" stroke="#000000" stroke-width="4" stroke-linecap="round"/>
<circle cx="164.4" cy="853.5" r="5.8" fill="#000000"/>
<text transform="translate(215.3 866.9) scale(1 1.115)" class="ll">0</text>
<path d="M131.0 888.2H197.9" stroke="#808000" stroke-width="4" stroke-linecap="round"/>
<circle cx="164.4" cy="888.2" r="5.8" fill="#808000"/>
<text transform="translate(208.0 901.6) scale(1 1.115)" class="ll">1.5</text>
<path d="M131.0 922.6H197.9" stroke="#408080" stroke-width="4" stroke-linecap="round"/>
<circle cx="164.4" cy="922.6" r="5.8" fill="#408080"/>
<text transform="translate(207.0 936.0) scale(1 1.115)" class="ll">3.0</text>
<path d="M131.0 956.8H197.9" stroke="#ff8000" stroke-width="4" stroke-linecap="round"/>
<circle cx="164.4" cy="956.8" r="5.8" fill="#ff8000"/>
<text transform="translate(206.5 970.2) scale(1 1.115)" class="ll">4.5</text>
<path d="M256.1 853.5H323.1" stroke="#008000" stroke-width="4" stroke-linecap="round"/>
<circle cx="289.6" cy="853.5" r="5.8" fill="#008000"/>
<text transform="translate(332.5 866.9) scale(1 1.115)" class="ll">6.0</text>
<path d="M256.1 888.2H323.1" stroke="#0000ff" stroke-width="4" stroke-linecap="round"/>
<circle cx="289.6" cy="888.2" r="5.8" fill="#0000ff"/>
<text transform="translate(335.5 901.6) scale(1 1.115)" class="ll">7.5</text>
<path d="M256.1 922.6H323.1" stroke="#8000ff" stroke-width="4" stroke-linecap="round"/>
<circle cx="289.6" cy="922.6" r="5.8" fill="#8000ff"/>
<text transform="translate(333.0 936.0) scale(1 1.115)" class="ll">9.0</text>
<path d="M389.4 849.3H462.2" stroke="#ff0000" stroke-width="4" stroke-linecap="round"/>
<circle cx="425.8" cy="849.3" r="5.8" fill="#ff0000"/>
<text transform="translate(474.2 862.7) scale(1 1.115)" class="ll">10.5</text>
<rect x="826.2" y="774.3" width="583.8" height="417.0" fill="none" stroke="#111" stroke-width="1.8"/>
<path d="M853.4 774.3v10.5M853.4 1191.3v-10.5M920.1 774.3v6.5M920.1 1191.3v-6.5M986.7 774.3v10.5M986.7 1191.3v-10.5M1053.4 774.3v6.5M1053.4 1191.3v-6.5M1120.1 774.3v10.5M1120.1 1191.3v-10.5M1186.8 774.3v6.5M1186.8 1191.3v-6.5M1253.4 774.3v10.5M1253.4 1191.3v-10.5M1320.1 774.3v6.5M1320.1 1191.3v-6.5M1386.8 774.3v10.5M1386.8 1191.3v-10.5M826.2 1189.0h5.4M1410.0 1189.0h-5.2M826.2 1178.9h12.5M1410.0 1178.9h-12.3M826.2 1168.8h5.4M1410.0 1168.8h-5.2M826.2 1158.7h5.4M1410.0 1158.7h-5.2M826.2 1148.5h5.4M1410.0 1148.5h-5.2M826.2 1138.4h5.4M1410.0 1138.4h-5.2M826.2 1128.3h12.5M1410.0 1128.3h-12.3M826.2 1118.2h5.4M1410.0 1118.2h-5.2M826.2 1108.1h5.4M1410.0 1108.1h-5.2M826.2 1097.9h5.4M1410.0 1097.9h-5.2M826.2 1087.8h5.4M1410.0 1087.8h-5.2M826.2 1077.7h12.5M1410.0 1077.7h-12.3M826.2 1067.6h5.4M1410.0 1067.6h-5.2M826.2 1057.5h5.4M1410.0 1057.5h-5.2M826.2 1047.3h5.4M1410.0 1047.3h-5.2M826.2 1037.2h5.4M1410.0 1037.2h-5.2M826.2 1027.1h12.5M1410.0 1027.1h-12.3M826.2 1017.0h5.4M1410.0 1017.0h-5.2M826.2 1006.9h5.4M1410.0 1006.9h-5.2M826.2 996.7h5.4M1410.0 996.7h-5.2M826.2 986.6h5.4M1410.0 986.6h-5.2M826.2 976.5h12.5M1410.0 976.5h-12.3M826.2 966.4h5.4M1410.0 966.4h-5.2M826.2 956.3h5.4M1410.0 956.3h-5.2M826.2 946.1h5.4M1410.0 946.1h-5.2M826.2 936.0h5.4M1410.0 936.0h-5.2M826.2 925.9h12.5M1410.0 925.9h-12.3M826.2 915.8h5.4M1410.0 915.8h-5.2M826.2 905.7h5.4M1410.0 905.7h-5.2M826.2 895.5h5.4M1410.0 895.5h-5.2M826.2 885.4h5.4M1410.0 885.4h-5.2M826.2 875.3h12.5M1410.0 875.3h-12.3M826.2 865.2h5.4M1410.0 865.2h-5.2M826.2 855.1h5.4M1410.0 855.1h-5.2M826.2 844.9h5.4M1410.0 844.9h-5.2M826.2 834.8h5.4M1410.0 834.8h-5.2M826.2 824.7h12.5M1410.0 824.7h-12.3M826.2 814.6h5.4M1410.0 814.6h-5.2M826.2 804.5h5.4M1410.0 804.5h-5.2M826.2 794.3h5.4M1410.0 794.3h-5.2M826.2 784.2h5.4M1410.0 784.2h-5.2" fill="none" stroke="#111" stroke-width="1.5"/>
<g>
<path d="M826.5 1176.6L830.1 1176.6L833.8 1176.6L837.4 1176.6L841.1 1176.6L844.7 1176.6L848.4 1176.6L852.0 1176.6L855.6 1176.6L859.3 1176.6L862.9 1176.6L866.6 1176.6L870.2 1176.6L873.9 1176.6L877.5 1176.6L881.2 1176.6L884.8 1176.6L888.4 1176.6L892.1 1176.6L895.7 1176.6L899.4 1176.6L903.0 1176.6L906.7 1176.6L910.3 1176.6L914.0 1176.6L917.6 1176.6L921.2 1176.6L924.9 1176.6L928.5 1176.6L932.2 1176.6L935.8 1176.6L939.5 1176.6L943.1 1176.6L946.7 1176.6L950.4 1176.6L954.0 1176.6L957.7 1176.6L961.3 1176.6L965.0 1176.6L968.6 1176.6L972.2 1176.6L975.9 1176.6L979.5 1176.6L983.2 1176.6L986.8 1176.6L990.5 1176.6L994.1 1176.6L997.8 1176.6L1001.4 1176.6L1005.0 1176.6L1008.7 1176.6L1012.3 1176.6L1016.0 1176.6L1019.6 1176.6L1023.3 1176.6L1026.9 1176.6L1030.5 1176.6L1034.2 1176.6L1037.8 1176.6L1041.5 1176.6L1045.1 1176.6L1048.8 1176.6L1052.4 1176.6L1056.1 1176.6L1059.7 1176.6L1063.3 1176.6L1067.0 1176.6L1070.6 1176.6L1074.3 1176.6L1077.9 1176.6L1081.6 1176.6L1085.2 1176.6L1088.8 1176.6L1092.5 1176.6L1096.1 1176.6L1099.8 1176.6L1103.4 1176.6L1107.1 1176.6L1110.7 1176.6L1114.4 1176.6L1118.0 1176.6L1121.6 1176.6L1125.3 1176.6L1128.9 1176.6L1132.6 1176.6L1136.2 1176.6L1139.9 1176.6L1143.5 1176.6L1147.2 1176.6L1150.8 1176.6L1154.4 1176.6L1158.1 1176.6L1161.7 1176.6L1165.4 1176.6L1169.0 1176.6L1172.7 1176.6L1176.3 1176.6L1179.9 1176.6L1183.6 1176.6L1187.2 1176.6L1190.9 1176.6L1194.5 1176.6L1198.2 1176.6L1201.8 1176.6L1205.5 1176.6L1209.1 1176.6L1212.7 1176.6L1216.4 1176.6L1220.0 1176.6L1223.7 1176.6L1227.3 1176.6L1231.0 1176.6L1234.6 1176.6L1238.2 1176.6L1241.9 1176.6L1245.5 1176.6L1249.2 1176.6L1252.8 1176.6L1256.5 1176.6L1260.1 1176.6L1263.8 1176.6L1267.4 1176.6L1271.0 1176.6L1274.7 1176.6L1278.3 1176.6L1282.0 1176.6L1285.6 1176.6L1289.3 1176.6L1292.9 1176.6L1296.5 1176.6L1300.2 1176.6L1303.8 1176.6L1307.5 1176.6L1311.1 1176.6L1314.8 1176.6L1318.4 1176.6L1322.0 1176.6L1325.7 1176.6L1329.3 1176.6L1333.0 1176.6L1336.6 1176.6L1340.3 1176.6L1343.9 1176.6L1347.6 1176.6L1351.2 1176.6L1354.8 1176.6L1358.5 1176.6L1362.1 1176.6L1365.8 1176.6L1369.4 1176.6L1373.1 1176.6L1376.7 1176.6L1380.3 1176.6L1384.0 1176.6L1387.6 1176.6L1391.3 1176.6L1394.9 1176.6L1398.6 1176.6L1402.2 1176.6L1405.9 1176.6L1409.5 1176.6" fill="none" stroke="#000000" stroke-width="2.0" stroke-linejoin="round" stroke-linecap="round"/>
<path d="M826.5 1176.6h0M830.1 1176.6h0M833.8 1176.6h0M837.4 1176.6h0M841.1 1176.6h0M844.7 1176.6h0M848.4 1176.6h0M852.0 1176.6h0M855.6 1176.6h0M859.3 1176.6h0M862.9 1176.6h0M866.6 1176.6h0M870.2 1176.6h0M873.9 1176.6h0M877.5 1176.6h0M881.2 1176.6h0M884.8 1176.6h0M888.4 1176.6h0M892.1 1176.6h0M895.7 1176.6h0M899.4 1176.6h0M903.0 1176.6h0M906.7 1176.6h0M910.3 1176.6h0M914.0 1176.6h0M917.6 1176.6h0M921.2 1176.6h0M924.9 1176.6h0M928.5 1176.6h0M932.2 1176.6h0M935.8 1176.6h0M939.5 1176.6h0M943.1 1176.6h0M946.7 1176.6h0M950.4 1176.6h0M954.0 1176.6h0M957.7 1176.6h0M961.3 1176.6h0M965.0 1176.6h0M968.6 1176.6h0M972.2 1176.6h0M975.9 1176.6h0M979.5 1176.6h0M983.2 1176.6h0M986.8 1176.6h0M990.5 1176.6h0M994.1 1176.6h0M997.8 1176.6h0M1001.4 1176.6h0M1005.0 1176.6h0M1008.7 1176.6h0M1012.3 1176.6h0M1016.0 1176.6h0M1019.6 1176.6h0M1023.3 1176.6h0M1026.9 1176.6h0M1030.5 1176.6h0M1034.2 1176.6h0M1037.8 1176.6h0M1041.5 1176.6h0M1045.1 1176.6h0M1048.8 1176.6h0M1052.4 1176.6h0M1056.1 1176.6h0M1059.7 1176.6h0M1063.3 1176.6h0M1067.0 1176.6h0M1070.6 1176.6h0M1074.3 1176.6h0M1077.9 1176.6h0M1081.6 1176.6h0M1085.2 1176.6h0M1088.8 1176.6h0M1092.5 1176.6h0M1096.1 1176.6h0M1099.8 1176.6h0M1103.4 1176.6h0M1107.1 1176.6h0M1110.7 1176.6h0M1114.4 1176.6h0M1118.0 1176.6h0M1121.6 1176.6h0M1125.3 1176.6h0M1128.9 1176.6h0M1132.6 1176.6h0M1136.2 1176.6h0M1139.9 1176.6h0M1143.5 1176.6h0M1147.2 1176.6h0M1150.8 1176.6h0M1154.4 1176.6h0M1158.1 1176.6h0M1161.7 1176.6h0M1165.4 1176.6h0M1169.0 1176.6h0M1172.7 1176.6h0M1176.3 1176.6h0M1179.9 1176.6h0M1183.6 1176.6h0M1187.2 1176.6h0M1190.9 1176.6h0M1194.5 1176.6h0M1198.2 1176.6h0M1201.8 1176.6h0M1205.5 1176.6h0M1209.1 1176.6h0M1212.7 1176.6h0M1216.4 1176.6h0M1220.0 1176.6h0M1223.7 1176.6h0M1227.3 1176.6h0M1231.0 1176.6h0M1234.6 1176.6h0M1238.2 1176.6h0M1241.9 1176.6h0M1245.5 1176.6h0M1249.2 1176.6h0M1252.8 1176.6h0M1256.5 1176.6h0M1260.1 1176.6h0M1263.8 1176.6h0M1267.4 1176.6h0M1271.0 1176.6h0M1274.7 1176.6h0M1278.3 1176.6h0M1282.0 1176.6h0M1285.6 1176.6h0M1289.3 1176.6h0M1292.9 1176.6h0M1296.5 1176.6h0M1300.2 1176.6h0M1303.8 1176.6h0M1307.5 1176.6h0M1311.1 1176.6h0M1314.8 1176.6h0M1318.4 1176.6h0M1322.0 1176.6h0M1325.7 1176.6h0M1329.3 1176.6h0M1333.0 1176.6h0M1336.6 1176.6h0M1340.3 1176.6h0M1343.9 1176.6h0M1347.6 1176.6h0M1351.2 1176.6h0M1354.8 1176.6h0M1358.5 1176.6h0M1362.1 1176.6h0M1365.8 1176.6h0M1369.4 1176.6h0M1373.1 1176.6h0M1376.7 1176.6h0M1380.3 1176.6h0M1384.0 1176.6h0M1387.6 1176.6h0M1391.3 1176.6h0M1394.9 1176.6h0M1398.6 1176.6h0M1402.2 1176.6h0M1405.9 1176.6h0M1409.5 1176.6h0" fill="none" stroke="#000000" stroke-width="11.7" stroke-linecap="round"/>
<path d="M826.5 1176.6L830.1 1176.6L833.8 1176.6L837.4 1176.6L841.1 1176.6L844.7 1176.6L848.4 1176.6L852.0 1176.6L855.6 1176.6L859.3 1176.6L862.9 1176.5L866.6 1176.5L870.2 1176.5L873.9 1176.5L877.5 1176.5L881.2 1176.5L884.8 1176.5L888.4 1176.5L892.1 1176.5L895.7 1176.5L899.4 1176.5L903.0 1176.5L906.7 1176.5L910.3 1176.4L914.0 1176.4L917.6 1176.4L921.2 1176.4L924.9 1176.4L928.5 1176.4L932.2 1176.4L935.8 1176.4L939.5 1176.4L943.1 1176.4L946.7 1176.4L950.4 1176.4L954.0 1176.4L957.7 1176.3L961.3 1176.3L965.0 1176.3L968.6 1176.3L972.2 1176.3L975.9 1176.3L979.5 1176.3L983.2 1176.3L986.8 1176.3L990.5 1176.3L994.1 1176.3L997.8 1176.3L1001.4 1176.3L1005.0 1176.2L1008.7 1176.2L1012.3 1176.2L1016.0 1176.2L1019.6 1176.2L1023.3 1176.2L1026.9 1176.2L1030.5 1176.2L1034.2 1176.2L1037.8 1176.2L1041.5 1176.2L1045.1 1176.2L1048.8 1176.2L1052.4 1176.2L1056.1 1176.2L1059.7 1176.2L1063.3 1176.1L1067.0 1176.1L1070.6 1176.1L1074.3 1176.1L1077.9 1176.1L1081.6 1176.1L1085.2 1176.1L1088.8 1176.1L1092.5 1176.1L1096.1 1176.1L1099.8 1176.1L1103.4 1176.1L1107.1 1176.1L1110.7 1176.1L1114.4 1176.1L1118.0 1176.1L1121.6 1176.1L1125.3 1176.1L1128.9 1176.1L1132.6 1176.1L1136.2 1176.1L1139.9 1176.1L1143.5 1176.1L1147.2 1176.1L1150.8 1176.1L1154.4 1176.1L1158.1 1176.1L1161.7 1176.1L1165.4 1176.1L1169.0 1176.1L1172.7 1176.1L1176.3 1176.2L1179.9 1176.2L1183.6 1176.2L1187.2 1176.2L1190.9 1176.2L1194.5 1176.2L1198.2 1176.2L1201.8 1176.2L1205.5 1176.2L1209.1 1176.2L1212.7 1176.2L1216.4 1176.2L1220.0 1176.2L1223.7 1176.2L1227.3 1176.2L1231.0 1176.2L1234.6 1176.3L1238.2 1176.3L1241.9 1176.3L1245.5 1176.3L1249.2 1176.3L1252.8 1176.3L1256.5 1176.3L1260.1 1176.3L1263.8 1176.3L1267.4 1176.3L1271.0 1176.3L1274.7 1176.3L1278.3 1176.3L1282.0 1176.4L1285.6 1176.4L1289.3 1176.4L1292.9 1176.4L1296.5 1176.4L1300.2 1176.4L1303.8 1176.4L1307.5 1176.4L1311.1 1176.4L1314.8 1176.4L1318.4 1176.4L1322.0 1176.4L1325.7 1176.4L1329.3 1176.5L1333.0 1176.5L1336.6 1176.5L1340.3 1176.5L1343.9 1176.5L1347.6 1176.5L1351.2 1176.5L1354.8 1176.5L1358.5 1176.5L1362.1 1176.5L1365.8 1176.5L1369.4 1176.5L1373.1 1176.5L1376.7 1176.6L1380.3 1176.6L1384.0 1176.6L1387.6 1176.6L1391.3 1176.6L1394.9 1176.6L1398.6 1176.6L1402.2 1176.6L1405.9 1176.6L1409.5 1176.6" fill="none" stroke="#808000" stroke-width="2.0" stroke-linejoin="round" stroke-linecap="round"/>
<path d="M826.5 1176.6h0M830.1 1176.6h0M833.8 1176.6h0M837.4 1176.6h0M841.1 1176.6h0M844.7 1176.6h0M848.4 1176.6h0M852.0 1176.6h0M855.6 1176.6h0M859.3 1176.6h0M862.9 1176.5h0M866.6 1176.5h0M870.2 1176.5h0M873.9 1176.5h0M877.5 1176.5h0M881.2 1176.5h0M884.8 1176.5h0M888.4 1176.5h0M892.1 1176.5h0M895.7 1176.5h0M899.4 1176.5h0M903.0 1176.5h0M906.7 1176.5h0M910.3 1176.4h0M914.0 1176.4h0M917.6 1176.4h0M921.2 1176.4h0M924.9 1176.4h0M928.5 1176.4h0M932.2 1176.4h0M935.8 1176.4h0M939.5 1176.4h0M943.1 1176.4h0M946.7 1176.4h0M950.4 1176.4h0M954.0 1176.4h0M957.7 1176.3h0M961.3 1176.3h0M965.0 1176.3h0M968.6 1176.3h0M972.2 1176.3h0M975.9 1176.3h0M979.5 1176.3h0M983.2 1176.3h0M986.8 1176.3h0M990.5 1176.3h0M994.1 1176.3h0M997.8 1176.3h0M1001.4 1176.3h0M1005.0 1176.2h0M1008.7 1176.2h0M1012.3 1176.2h0M1016.0 1176.2h0M1019.6 1176.2h0M1023.3 1176.2h0M1026.9 1176.2h0M1030.5 1176.2h0M1034.2 1176.2h0M1037.8 1176.2h0M1041.5 1176.2h0M1045.1 1176.2h0M1048.8 1176.2h0M1052.4 1176.2h0M1056.1 1176.2h0M1059.7 1176.2h0M1063.3 1176.1h0M1067.0 1176.1h0M1070.6 1176.1h0M1074.3 1176.1h0M1077.9 1176.1h0M1081.6 1176.1h0M1085.2 1176.1h0M1088.8 1176.1h0M1092.5 1176.1h0M1096.1 1176.1h0M1099.8 1176.1h0M1103.4 1176.1h0M1107.1 1176.1h0M1110.7 1176.1h0M1114.4 1176.1h0M1118.0 1176.1h0M1121.6 1176.1h0M1125.3 1176.1h0M1128.9 1176.1h0M1132.6 1176.1h0M1136.2 1176.1h0M1139.9 1176.1h0M1143.5 1176.1h0M1147.2 1176.1h0M1150.8 1176.1h0M1154.4 1176.1h0M1158.1 1176.1h0M1161.7 1176.1h0M1165.4 1176.1h0M1169.0 1176.1h0M1172.7 1176.1h0M1176.3 1176.2h0M1179.9 1176.2h0M1183.6 1176.2h0M1187.2 1176.2h0M1190.9 1176.2h0M1194.5 1176.2h0M1198.2 1176.2h0M1201.8 1176.2h0M1205.5 1176.2h0M1209.1 1176.2h0M1212.7 1176.2h0M1216.4 1176.2h0M1220.0 1176.2h0M1223.7 1176.2h0M1227.3 1176.2h0M1231.0 1176.2h0M1234.6 1176.3h0M1238.2 1176.3h0M1241.9 1176.3h0M1245.5 1176.3h0M1249.2 1176.3h0M1252.8 1176.3h0M1256.5 1176.3h0M1260.1 1176.3h0M1263.8 1176.3h0M1267.4 1176.3h0M1271.0 1176.3h0M1274.7 1176.3h0M1278.3 1176.3h0M1282.0 1176.4h0M1285.6 1176.4h0M1289.3 1176.4h0M1292.9 1176.4h0M1296.5 1176.4h0M1300.2 1176.4h0M1303.8 1176.4h0M1307.5 1176.4h0M1311.1 1176.4h0M1314.8 1176.4h0M1318.4 1176.4h0M1322.0 1176.4h0M1325.7 1176.4h0M1329.3 1176.5h0M1333.0 1176.5h0M1336.6 1176.5h0M1340.3 1176.5h0M1343.9 1176.5h0M1347.6 1176.5h0M1351.2 1176.5h0M1354.8 1176.5h0M1358.5 1176.5h0M1362.1 1176.5h0M1365.8 1176.5h0M1369.4 1176.5h0M1373.1 1176.5h0M1376.7 1176.6h0M1380.3 1176.6h0M1384.0 1176.6h0M1387.6 1176.6h0M1391.3 1176.6h0M1394.9 1176.6h0M1398.6 1176.6h0M1402.2 1176.6h0M1405.9 1176.6h0M1409.5 1176.6h0" fill="none" stroke="#808000" stroke-width="11.7" stroke-linecap="round"/>
<path d="M826.5 1173.3L830.1 1173.3L833.8 1173.3L837.4 1173.2L841.1 1173.2L844.7 1173.2L848.4 1173.1L852.0 1173.1L855.6 1173.1L859.3 1173.1L862.9 1173.0L866.6 1173.0L870.2 1173.0L873.9 1172.9L877.5 1172.9L881.2 1172.9L884.8 1172.8L888.4 1172.8L892.1 1172.8L895.7 1172.7L899.4 1172.7L903.0 1172.7L906.7 1172.7L910.3 1172.6L914.0 1172.6L917.6 1172.6L921.2 1172.5L924.9 1172.5L928.5 1172.5L932.2 1172.4L935.8 1172.4L939.5 1172.4L943.1 1172.4L946.7 1172.3L950.4 1172.3L954.0 1172.3L957.7 1172.2L961.3 1172.2L965.0 1172.2L968.6 1172.1L972.2 1172.1L975.9 1172.1L979.5 1172.0L983.2 1172.0L986.8 1172.0L990.5 1172.0L994.1 1171.9L997.8 1171.9L1001.4 1171.9L1005.0 1171.8L1008.7 1171.8L1012.3 1171.8L1016.0 1171.8L1019.6 1171.7L1023.3 1171.7L1026.9 1171.7L1030.5 1171.6L1034.2 1171.6L1037.8 1171.6L1041.5 1171.6L1045.1 1171.5L1048.8 1171.5L1052.4 1171.5L1056.1 1171.5L1059.7 1171.5L1063.3 1171.4L1067.0 1171.4L1070.6 1171.4L1074.3 1171.4L1077.9 1171.4L1081.6 1171.4L1085.2 1171.4L1088.8 1171.3L1092.5 1171.3L1096.1 1171.3L1099.8 1171.3L1103.4 1171.3L1107.1 1171.3L1110.7 1171.3L1114.4 1171.3L1118.0 1171.3L1121.6 1171.3L1125.3 1171.3L1128.9 1171.3L1132.6 1171.3L1136.2 1171.3L1139.9 1171.3L1143.5 1171.3L1147.2 1171.3L1150.8 1171.4L1154.4 1171.4L1158.1 1171.4L1161.7 1171.4L1165.4 1171.4L1169.0 1171.4L1172.7 1171.4L1176.3 1171.5L1179.9 1171.5L1183.6 1171.5L1187.2 1171.5L1190.9 1171.5L1194.5 1171.6L1198.2 1171.6L1201.8 1171.6L1205.5 1171.6L1209.1 1171.7L1212.7 1171.7L1216.4 1171.7L1220.0 1171.8L1223.7 1171.8L1227.3 1171.8L1231.0 1171.8L1234.6 1171.9L1238.2 1171.9L1241.9 1171.9L1245.5 1172.0L1249.2 1172.0L1252.8 1172.0L1256.5 1172.0L1260.1 1172.1L1263.8 1172.1L1267.4 1172.1L1271.0 1172.2L1274.7 1172.2L1278.3 1172.2L1282.0 1172.3L1285.6 1172.3L1289.3 1172.3L1292.9 1172.4L1296.5 1172.4L1300.2 1172.4L1303.8 1172.4L1307.5 1172.5L1311.1 1172.5L1314.8 1172.5L1318.4 1172.6L1322.0 1172.6L1325.7 1172.6L1329.3 1172.7L1333.0 1172.7L1336.6 1172.7L1340.3 1172.7L1343.9 1172.8L1347.6 1172.8L1351.2 1172.8L1354.8 1172.9L1358.5 1172.9L1362.1 1172.9L1365.8 1173.0L1369.4 1173.0L1373.1 1173.0L1376.7 1173.1L1380.3 1173.1L1384.0 1173.1L1387.6 1173.1L1391.3 1173.2L1394.9 1173.2L1398.6 1173.2L1402.2 1173.3L1405.9 1173.3L1409.5 1173.3" fill="none" stroke="#408080" stroke-width="2.0" stroke-linejoin="round" stroke-linecap="round"/>
<path d="M826.5 1173.3h0M830.1 1173.3h0M833.8 1173.3h0M837.4 1173.2h0M841.1 1173.2h0M844.7 1173.2h0M848.4 1173.1h0M852.0 1173.1h0M855.6 1173.1h0M859.3 1173.1h0M862.9 1173.0h0M866.6 1173.0h0M870.2 1173.0h0M873.9 1172.9h0M877.5 1172.9h0M881.2 1172.9h0M884.8 1172.8h0M888.4 1172.8h0M892.1 1172.8h0M895.7 1172.7h0M899.4 1172.7h0M903.0 1172.7h0M906.7 1172.7h0M910.3 1172.6h0M914.0 1172.6h0M917.6 1172.6h0M921.2 1172.5h0M924.9 1172.5h0M928.5 1172.5h0M932.2 1172.4h0M935.8 1172.4h0M939.5 1172.4h0M943.1 1172.4h0M946.7 1172.3h0M950.4 1172.3h0M954.0 1172.3h0M957.7 1172.2h0M961.3 1172.2h0M965.0 1172.2h0M968.6 1172.1h0M972.2 1172.1h0M975.9 1172.1h0M979.5 1172.0h0M983.2 1172.0h0M986.8 1172.0h0M990.5 1172.0h0M994.1 1171.9h0M997.8 1171.9h0M1001.4 1171.9h0M1005.0 1171.8h0M1008.7 1171.8h0M1012.3 1171.8h0M1016.0 1171.8h0M1019.6 1171.7h0M1023.3 1171.7h0M1026.9 1171.7h0M1030.5 1171.6h0M1034.2 1171.6h0M1037.8 1171.6h0M1041.5 1171.6h0M1045.1 1171.5h0M1048.8 1171.5h0M1052.4 1171.5h0M1056.1 1171.5h0M1059.7 1171.5h0M1063.3 1171.4h0M1067.0 1171.4h0M1070.6 1171.4h0M1074.3 1171.4h0M1077.9 1171.4h0M1081.6 1171.4h0M1085.2 1171.4h0M1088.8 1171.3h0M1092.5 1171.3h0M1096.1 1171.3h0M1099.8 1171.3h0M1103.4 1171.3h0M1107.1 1171.3h0M1110.7 1171.3h0M1114.4 1171.3h0M1118.0 1171.3h0M1121.6 1171.3h0M1125.3 1171.3h0M1128.9 1171.3h0M1132.6 1171.3h0M1136.2 1171.3h0M1139.9 1171.3h0M1143.5 1171.3h0M1147.2 1171.3h0M1150.8 1171.4h0M1154.4 1171.4h0M1158.1 1171.4h0M1161.7 1171.4h0M1165.4 1171.4h0M1169.0 1171.4h0M1172.7 1171.4h0M1176.3 1171.5h0M1179.9 1171.5h0M1183.6 1171.5h0M1187.2 1171.5h0M1190.9 1171.5h0M1194.5 1171.6h0M1198.2 1171.6h0M1201.8 1171.6h0M1205.5 1171.6h0M1209.1 1171.7h0M1212.7 1171.7h0M1216.4 1171.7h0M1220.0 1171.8h0M1223.7 1171.8h0M1227.3 1171.8h0M1231.0 1171.8h0M1234.6 1171.9h0M1238.2 1171.9h0M1241.9 1171.9h0M1245.5 1172.0h0M1249.2 1172.0h0M1252.8 1172.0h0M1256.5 1172.0h0M1260.1 1172.1h0M1263.8 1172.1h0M1267.4 1172.1h0M1271.0 1172.2h0M1274.7 1172.2h0M1278.3 1172.2h0M1282.0 1172.3h0M1285.6 1172.3h0M1289.3 1172.3h0M1292.9 1172.4h0M1296.5 1172.4h0M1300.2 1172.4h0M1303.8 1172.4h0M1307.5 1172.5h0M1311.1 1172.5h0M1314.8 1172.5h0M1318.4 1172.6h0M1322.0 1172.6h0M1325.7 1172.6h0M1329.3 1172.7h0M1333.0 1172.7h0M1336.6 1172.7h0M1340.3 1172.7h0M1343.9 1172.8h0M1347.6 1172.8h0M1351.2 1172.8h0M1354.8 1172.9h0M1358.5 1172.9h0M1362.1 1172.9h0M1365.8 1173.0h0M1369.4 1173.0h0M1373.1 1173.0h0M1376.7 1173.1h0M1380.3 1173.1h0M1384.0 1173.1h0M1387.6 1173.1h0M1391.3 1173.2h0M1394.9 1173.2h0M1398.6 1173.2h0M1402.2 1173.3h0M1405.9 1173.3h0M1409.5 1173.3h0" fill="none" stroke="#408080" stroke-width="11.7" stroke-linecap="round"/>
<path d="M826.5 1161.4L830.1 1161.4L833.8 1161.3L837.4 1161.3L841.1 1161.2L844.7 1161.2L848.4 1161.1L852.0 1161.1L855.6 1161.0L859.3 1161.0L862.9 1160.9L866.6 1160.8L870.2 1160.8L873.9 1160.7L877.5 1160.7L881.2 1160.6L884.8 1160.6L888.4 1160.5L892.1 1160.5L895.7 1160.4L899.4 1160.4L903.0 1160.3L906.7 1160.3L910.3 1160.2L914.0 1160.2L917.6 1160.1L921.2 1160.0L924.9 1160.0L928.5 1159.9L932.2 1159.9L935.8 1159.8L939.5 1159.8L943.1 1159.7L946.7 1159.7L950.4 1159.6L954.0 1159.6L957.7 1159.5L961.3 1159.5L965.0 1159.4L968.6 1159.4L972.2 1159.3L975.9 1159.2L979.5 1159.2L983.2 1159.1L986.8 1159.1L990.5 1159.0L994.1 1159.0L997.8 1158.9L1001.4 1158.9L1005.0 1158.8L1008.7 1158.8L1012.3 1158.7L1016.0 1158.7L1019.6 1158.6L1023.3 1158.6L1026.9 1158.5L1030.5 1158.5L1034.2 1158.4L1037.8 1158.4L1041.5 1158.3L1045.1 1158.3L1048.8 1158.3L1052.4 1158.2L1056.1 1158.2L1059.7 1158.2L1063.3 1158.1L1067.0 1158.1L1070.6 1158.1L1074.3 1158.0L1077.9 1158.0L1081.6 1158.0L1085.2 1158.0L1088.8 1158.0L1092.5 1158.0L1096.1 1157.9L1099.8 1157.9L1103.4 1157.9L1107.1 1157.9L1110.7 1157.9L1114.4 1157.9L1118.0 1157.9L1121.6 1157.9L1125.3 1157.9L1128.9 1157.9L1132.6 1157.9L1136.2 1157.9L1139.9 1157.9L1143.5 1158.0L1147.2 1158.0L1150.8 1158.0L1154.4 1158.0L1158.1 1158.0L1161.7 1158.0L1165.4 1158.1L1169.0 1158.1L1172.7 1158.1L1176.3 1158.2L1179.9 1158.2L1183.6 1158.2L1187.2 1158.3L1190.9 1158.3L1194.5 1158.3L1198.2 1158.4L1201.8 1158.4L1205.5 1158.5L1209.1 1158.5L1212.7 1158.6L1216.4 1158.6L1220.0 1158.7L1223.7 1158.7L1227.3 1158.8L1231.0 1158.8L1234.6 1158.9L1238.2 1158.9L1241.9 1159.0L1245.5 1159.0L1249.2 1159.1L1252.8 1159.1L1256.5 1159.2L1260.1 1159.2L1263.8 1159.3L1267.4 1159.4L1271.0 1159.4L1274.7 1159.5L1278.3 1159.5L1282.0 1159.6L1285.6 1159.6L1289.3 1159.7L1292.9 1159.7L1296.5 1159.8L1300.2 1159.8L1303.8 1159.9L1307.5 1159.9L1311.1 1160.0L1314.8 1160.0L1318.4 1160.1L1322.0 1160.2L1325.7 1160.2L1329.3 1160.3L1333.0 1160.3L1336.6 1160.4L1340.3 1160.4L1343.9 1160.5L1347.6 1160.5L1351.2 1160.6L1354.8 1160.6L1358.5 1160.7L1362.1 1160.7L1365.8 1160.8L1369.4 1160.8L1373.1 1160.9L1376.7 1161.0L1380.3 1161.0L1384.0 1161.1L1387.6 1161.1L1391.3 1161.2L1394.9 1161.2L1398.6 1161.3L1402.2 1161.3L1405.9 1161.4L1409.5 1161.4" fill="none" stroke="#ff8000" stroke-width="2.0" stroke-linejoin="round" stroke-linecap="round"/>
<path d="M826.5 1161.4h0M830.1 1161.4h0M833.8 1161.3h0M837.4 1161.3h0M841.1 1161.2h0M844.7 1161.2h0M848.4 1161.1h0M852.0 1161.1h0M855.6 1161.0h0M859.3 1161.0h0M862.9 1160.9h0M866.6 1160.8h0M870.2 1160.8h0M873.9 1160.7h0M877.5 1160.7h0M881.2 1160.6h0M884.8 1160.6h0M888.4 1160.5h0M892.1 1160.5h0M895.7 1160.4h0M899.4 1160.4h0M903.0 1160.3h0M906.7 1160.3h0M910.3 1160.2h0M914.0 1160.2h0M917.6 1160.1h0M921.2 1160.0h0M924.9 1160.0h0M928.5 1159.9h0M932.2 1159.9h0M935.8 1159.8h0M939.5 1159.8h0M943.1 1159.7h0M946.7 1159.7h0M950.4 1159.6h0M954.0 1159.6h0M957.7 1159.5h0M961.3 1159.5h0M965.0 1159.4h0M968.6 1159.4h0M972.2 1159.3h0M975.9 1159.2h0M979.5 1159.2h0M983.2 1159.1h0M986.8 1159.1h0M990.5 1159.0h0M994.1 1159.0h0M997.8 1158.9h0M1001.4 1158.9h0M1005.0 1158.8h0M1008.7 1158.8h0M1012.3 1158.7h0M1016.0 1158.7h0M1019.6 1158.6h0M1023.3 1158.6h0M1026.9 1158.5h0M1030.5 1158.5h0M1034.2 1158.4h0M1037.8 1158.4h0M1041.5 1158.3h0M1045.1 1158.3h0M1048.8 1158.3h0M1052.4 1158.2h0M1056.1 1158.2h0M1059.7 1158.2h0M1063.3 1158.1h0M1067.0 1158.1h0M1070.6 1158.1h0M1074.3 1158.0h0M1077.9 1158.0h0M1081.6 1158.0h0M1085.2 1158.0h0M1088.8 1158.0h0M1092.5 1158.0h0M1096.1 1157.9h0M1099.8 1157.9h0M1103.4 1157.9h0M1107.1 1157.9h0M1110.7 1157.9h0M1114.4 1157.9h0M1118.0 1157.9h0M1121.6 1157.9h0M1125.3 1157.9h0M1128.9 1157.9h0M1132.6 1157.9h0M1136.2 1157.9h0M1139.9 1157.9h0M1143.5 1158.0h0M1147.2 1158.0h0M1150.8 1158.0h0M1154.4 1158.0h0M1158.1 1158.0h0M1161.7 1158.0h0M1165.4 1158.1h0M1169.0 1158.1h0M1172.7 1158.1h0M1176.3 1158.2h0M1179.9 1158.2h0M1183.6 1158.2h0M1187.2 1158.3h0M1190.9 1158.3h0M1194.5 1158.3h0M1198.2 1158.4h0M1201.8 1158.4h0M1205.5 1158.5h0M1209.1 1158.5h0M1212.7 1158.6h0M1216.4 1158.6h0M1220.0 1158.7h0M1223.7 1158.7h0M1227.3 1158.8h0M1231.0 1158.8h0M1234.6 1158.9h0M1238.2 1158.9h0M1241.9 1159.0h0M1245.5 1159.0h0M1249.2 1159.1h0M1252.8 1159.1h0M1256.5 1159.2h0M1260.1 1159.2h0M1263.8 1159.3h0M1267.4 1159.4h0M1271.0 1159.4h0M1274.7 1159.5h0M1278.3 1159.5h0M1282.0 1159.6h0M1285.6 1159.6h0M1289.3 1159.7h0M1292.9 1159.7h0M1296.5 1159.8h0M1300.2 1159.8h0M1303.8 1159.9h0M1307.5 1159.9h0M1311.1 1160.0h0M1314.8 1160.0h0M1318.4 1160.1h0M1322.0 1160.2h0M1325.7 1160.2h0M1329.3 1160.3h0M1333.0 1160.3h0M1336.6 1160.4h0M1340.3 1160.4h0M1343.9 1160.5h0M1347.6 1160.5h0M1351.2 1160.6h0M1354.8 1160.6h0M1358.5 1160.7h0M1362.1 1160.7h0M1365.8 1160.8h0M1369.4 1160.8h0M1373.1 1160.9h0M1376.7 1161.0h0M1380.3 1161.0h0M1384.0 1161.1h0M1387.6 1161.1h0M1391.3 1161.2h0M1394.9 1161.2h0M1398.6 1161.3h0M1402.2 1161.3h0M1405.9 1161.4h0M1409.5 1161.4h0" fill="none" stroke="#ff8000" stroke-width="11.7" stroke-linecap="round"/>
<path d="M826.5 1143.2L830.1 1143.1L833.8 1142.9L837.4 1142.8L841.1 1142.7L844.7 1142.5L848.4 1142.4L852.0 1142.2L855.6 1142.1L859.3 1141.9L862.9 1141.8L866.6 1141.7L870.2 1141.5L873.9 1141.4L877.5 1141.2L881.2 1141.1L884.8 1140.9L888.4 1140.8L892.1 1140.7L895.7 1140.5L899.4 1140.4L903.0 1140.2L906.7 1140.1L910.3 1140.0L914.0 1139.8L917.6 1139.7L921.2 1139.5L924.9 1139.4L928.5 1139.2L932.2 1139.1L935.8 1139.0L939.5 1138.8L943.1 1138.7L946.7 1138.5L950.4 1138.4L954.0 1138.3L957.7 1138.1L961.3 1138.0L965.0 1137.8L968.6 1137.7L972.2 1137.6L975.9 1137.4L979.5 1137.3L983.2 1137.1L986.8 1137.0L990.5 1136.9L994.1 1136.7L997.8 1136.6L1001.4 1136.5L1005.0 1136.3L1008.7 1136.2L1012.3 1136.1L1016.0 1135.9L1019.6 1135.8L1023.3 1135.7L1026.9 1135.5L1030.5 1135.4L1034.2 1135.3L1037.8 1135.2L1041.5 1135.0L1045.1 1134.9L1048.8 1134.8L1052.4 1134.7L1056.1 1134.6L1059.7 1134.5L1063.3 1134.4L1067.0 1134.4L1070.6 1134.3L1074.3 1134.2L1077.9 1134.2L1081.6 1134.1L1085.2 1134.1L1088.8 1134.0L1092.5 1134.0L1096.1 1134.0L1099.8 1134.0L1103.4 1133.9L1107.1 1133.9L1110.7 1133.9L1114.4 1133.9L1118.0 1133.9L1121.6 1133.9L1125.3 1133.9L1128.9 1133.9L1132.6 1133.9L1136.2 1134.0L1139.9 1134.0L1143.5 1134.0L1147.2 1134.0L1150.8 1134.1L1154.4 1134.1L1158.1 1134.2L1161.7 1134.2L1165.4 1134.3L1169.0 1134.4L1172.7 1134.4L1176.3 1134.5L1179.9 1134.6L1183.6 1134.7L1187.2 1134.8L1190.9 1134.9L1194.5 1135.0L1198.2 1135.2L1201.8 1135.3L1205.5 1135.4L1209.1 1135.5L1212.7 1135.7L1216.4 1135.8L1220.0 1135.9L1223.7 1136.1L1227.3 1136.2L1231.0 1136.3L1234.6 1136.5L1238.2 1136.6L1241.9 1136.7L1245.5 1136.9L1249.2 1137.0L1252.8 1137.1L1256.5 1137.3L1260.1 1137.4L1263.8 1137.6L1267.4 1137.7L1271.0 1137.8L1274.7 1138.0L1278.3 1138.1L1282.0 1138.3L1285.6 1138.4L1289.3 1138.5L1292.9 1138.7L1296.5 1138.8L1300.2 1139.0L1303.8 1139.1L1307.5 1139.2L1311.1 1139.4L1314.8 1139.5L1318.4 1139.7L1322.0 1139.8L1325.7 1140.0L1329.3 1140.1L1333.0 1140.2L1336.6 1140.4L1340.3 1140.5L1343.9 1140.7L1347.6 1140.8L1351.2 1140.9L1354.8 1141.1L1358.5 1141.2L1362.1 1141.4L1365.8 1141.5L1369.4 1141.7L1373.1 1141.8L1376.7 1141.9L1380.3 1142.1L1384.0 1142.2L1387.6 1142.4L1391.3 1142.5L1394.9 1142.7L1398.6 1142.8L1402.2 1142.9L1405.9 1143.1L1409.5 1143.2" fill="none" stroke="#008000" stroke-width="2.0" stroke-linejoin="round" stroke-linecap="round"/>
<path d="M826.5 1143.2h0M830.1 1143.1h0M833.8 1142.9h0M837.4 1142.8h0M841.1 1142.7h0M844.7 1142.5h0M848.4 1142.4h0M852.0 1142.2h0M855.6 1142.1h0M859.3 1141.9h0M862.9 1141.8h0M866.6 1141.7h0M870.2 1141.5h0M873.9 1141.4h0M877.5 1141.2h0M881.2 1141.1h0M884.8 1140.9h0M888.4 1140.8h0M892.1 1140.7h0M895.7 1140.5h0M899.4 1140.4h0M903.0 1140.2h0M906.7 1140.1h0M910.3 1140.0h0M914.0 1139.8h0M917.6 1139.7h0M921.2 1139.5h0M924.9 1139.4h0M928.5 1139.2h0M932.2 1139.1h0M935.8 1139.0h0M939.5 1138.8h0M943.1 1138.7h0M946.7 1138.5h0M950.4 1138.4h0M954.0 1138.3h0M957.7 1138.1h0M961.3 1138.0h0M965.0 1137.8h0M968.6 1137.7h0M972.2 1137.6h0M975.9 1137.4h0M979.5 1137.3h0M983.2 1137.1h0M986.8 1137.0h0M990.5 1136.9h0M994.1 1136.7h0M997.8 1136.6h0M1001.4 1136.5h0M1005.0 1136.3h0M1008.7 1136.2h0M1012.3 1136.1h0M1016.0 1135.9h0M1019.6 1135.8h0M1023.3 1135.7h0M1026.9 1135.5h0M1030.5 1135.4h0M1034.2 1135.3h0M1037.8 1135.2h0M1041.5 1135.0h0M1045.1 1134.9h0M1048.8 1134.8h0M1052.4 1134.7h0M1056.1 1134.6h0M1059.7 1134.5h0M1063.3 1134.4h0M1067.0 1134.4h0M1070.6 1134.3h0M1074.3 1134.2h0M1077.9 1134.2h0M1081.6 1134.1h0M1085.2 1134.1h0M1088.8 1134.0h0M1092.5 1134.0h0M1096.1 1134.0h0M1099.8 1134.0h0M1103.4 1133.9h0M1107.1 1133.9h0M1110.7 1133.9h0M1114.4 1133.9h0M1118.0 1133.9h0M1121.6 1133.9h0M1125.3 1133.9h0M1128.9 1133.9h0M1132.6 1133.9h0M1136.2 1134.0h0M1139.9 1134.0h0M1143.5 1134.0h0M1147.2 1134.0h0M1150.8 1134.1h0M1154.4 1134.1h0M1158.1 1134.2h0M1161.7 1134.2h0M1165.4 1134.3h0M1169.0 1134.4h0M1172.7 1134.4h0M1176.3 1134.5h0M1179.9 1134.6h0M1183.6 1134.7h0M1187.2 1134.8h0M1190.9 1134.9h0M1194.5 1135.0h0M1198.2 1135.2h0M1201.8 1135.3h0M1205.5 1135.4h0M1209.1 1135.5h0M1212.7 1135.7h0M1216.4 1135.8h0M1220.0 1135.9h0M1223.7 1136.1h0M1227.3 1136.2h0M1231.0 1136.3h0M1234.6 1136.5h0M1238.2 1136.6h0M1241.9 1136.7h0M1245.5 1136.9h0M1249.2 1137.0h0M1252.8 1137.1h0M1256.5 1137.3h0M1260.1 1137.4h0M1263.8 1137.6h0M1267.4 1137.7h0M1271.0 1137.8h0M1274.7 1138.0h0M1278.3 1138.1h0M1282.0 1138.3h0M1285.6 1138.4h0M1289.3 1138.5h0M1292.9 1138.7h0M1296.5 1138.8h0M1300.2 1139.0h0M1303.8 1139.1h0M1307.5 1139.2h0M1311.1 1139.4h0M1314.8 1139.5h0M1318.4 1139.7h0M1322.0 1139.8h0M1325.7 1140.0h0M1329.3 1140.1h0M1333.0 1140.2h0M1336.6 1140.4h0M1340.3 1140.5h0M1343.9 1140.7h0M1347.6 1140.8h0M1351.2 1140.9h0M1354.8 1141.1h0M1358.5 1141.2h0M1362.1 1141.4h0M1365.8 1141.5h0M1369.4 1141.7h0M1373.1 1141.8h0M1376.7 1141.9h0M1380.3 1142.1h0M1384.0 1142.2h0M1387.6 1142.4h0M1391.3 1142.5h0M1394.9 1142.7h0M1398.6 1142.8h0M1402.2 1142.9h0M1405.9 1143.1h0M1409.5 1143.2h0" fill="none" stroke="#008000" stroke-width="11.7" stroke-linecap="round"/>
<path d="M826.5 1117.4L830.1 1117.1L833.8 1116.9L837.4 1116.6L841.1 1116.3L844.7 1116.0L848.4 1115.7L852.0 1115.5L855.6 1115.2L859.3 1114.9L862.9 1114.6L866.6 1114.3L870.2 1114.0L873.9 1113.8L877.5 1113.5L881.2 1113.2L884.8 1112.9L888.4 1112.6L892.1 1112.4L895.7 1112.1L899.4 1111.8L903.0 1111.5L906.7 1111.2L910.3 1111.0L914.0 1110.7L917.6 1110.4L921.2 1110.1L924.9 1109.8L928.5 1109.6L932.2 1109.3L935.8 1109.0L939.5 1108.7L943.1 1108.4L946.7 1108.2L950.4 1107.9L954.0 1107.6L957.7 1107.3L961.3 1107.1L965.0 1106.8L968.6 1106.5L972.2 1106.2L975.9 1106.0L979.5 1105.7L983.2 1105.4L986.8 1105.1L990.5 1104.9L994.1 1104.6L997.8 1104.3L1001.4 1104.1L1005.0 1103.8L1008.7 1103.5L1012.3 1103.3L1016.0 1103.0L1019.6 1102.8L1023.3 1102.5L1026.9 1102.2L1030.5 1102.0L1034.2 1101.8L1037.8 1101.5L1041.5 1101.3L1045.1 1101.1L1048.8 1100.8L1052.4 1100.6L1056.1 1100.4L1059.7 1100.3L1063.3 1100.1L1067.0 1099.9L1070.6 1099.8L1074.3 1099.7L1077.9 1099.6L1081.6 1099.5L1085.2 1099.4L1088.8 1099.3L1092.5 1099.2L1096.1 1099.2L1099.8 1099.1L1103.4 1099.1L1107.1 1099.0L1110.7 1099.0L1114.4 1099.0L1118.0 1099.0L1121.6 1099.0L1125.3 1099.0L1128.9 1099.0L1132.6 1099.1L1136.2 1099.1L1139.9 1099.2L1143.5 1099.2L1147.2 1099.3L1150.8 1099.4L1154.4 1099.5L1158.1 1099.6L1161.7 1099.7L1165.4 1099.8L1169.0 1099.9L1172.7 1100.1L1176.3 1100.3L1179.9 1100.4L1183.6 1100.6L1187.2 1100.8L1190.9 1101.1L1194.5 1101.3L1198.2 1101.5L1201.8 1101.8L1205.5 1102.0L1209.1 1102.2L1212.7 1102.5L1216.4 1102.8L1220.0 1103.0L1223.7 1103.3L1227.3 1103.5L1231.0 1103.8L1234.6 1104.1L1238.2 1104.3L1241.9 1104.6L1245.5 1104.9L1249.2 1105.1L1252.8 1105.4L1256.5 1105.7L1260.1 1106.0L1263.8 1106.2L1267.4 1106.5L1271.0 1106.8L1274.7 1107.1L1278.3 1107.3L1282.0 1107.6L1285.6 1107.9L1289.3 1108.2L1292.9 1108.4L1296.5 1108.7L1300.2 1109.0L1303.8 1109.3L1307.5 1109.6L1311.1 1109.8L1314.8 1110.1L1318.4 1110.4L1322.0 1110.7L1325.7 1111.0L1329.3 1111.2L1333.0 1111.5L1336.6 1111.8L1340.3 1112.1L1343.9 1112.4L1347.6 1112.6L1351.2 1112.9L1354.8 1113.2L1358.5 1113.5L1362.1 1113.8L1365.8 1114.0L1369.4 1114.3L1373.1 1114.6L1376.7 1114.9L1380.3 1115.2L1384.0 1115.5L1387.6 1115.7L1391.3 1116.0L1394.9 1116.3L1398.6 1116.6L1402.2 1116.9L1405.9 1117.1L1409.5 1117.4" fill="none" stroke="#0000ff" stroke-width="2.0" stroke-linejoin="round" stroke-linecap="round"/>
<path d="M826.5 1117.4h0M830.1 1117.1h0M833.8 1116.9h0M837.4 1116.6h0M841.1 1116.3h0M844.7 1116.0h0M848.4 1115.7h0M852.0 1115.5h0M855.6 1115.2h0M859.3 1114.9h0M862.9 1114.6h0M866.6 1114.3h0M870.2 1114.0h0M873.9 1113.8h0M877.5 1113.5h0M881.2 1113.2h0M884.8 1112.9h0M888.4 1112.6h0M892.1 1112.4h0M895.7 1112.1h0M899.4 1111.8h0M903.0 1111.5h0M906.7 1111.2h0M910.3 1111.0h0M914.0 1110.7h0M917.6 1110.4h0M921.2 1110.1h0M924.9 1109.8h0M928.5 1109.6h0M932.2 1109.3h0M935.8 1109.0h0M939.5 1108.7h0M943.1 1108.4h0M946.7 1108.2h0M950.4 1107.9h0M954.0 1107.6h0M957.7 1107.3h0M961.3 1107.1h0M965.0 1106.8h0M968.6 1106.5h0M972.2 1106.2h0M975.9 1106.0h0M979.5 1105.7h0M983.2 1105.4h0M986.8 1105.1h0M990.5 1104.9h0M994.1 1104.6h0M997.8 1104.3h0M1001.4 1104.1h0M1005.0 1103.8h0M1008.7 1103.5h0M1012.3 1103.3h0M1016.0 1103.0h0M1019.6 1102.8h0M1023.3 1102.5h0M1026.9 1102.2h0M1030.5 1102.0h0M1034.2 1101.8h0M1037.8 1101.5h0M1041.5 1101.3h0M1045.1 1101.1h0M1048.8 1100.8h0M1052.4 1100.6h0M1056.1 1100.4h0M1059.7 1100.3h0M1063.3 1100.1h0M1067.0 1099.9h0M1070.6 1099.8h0M1074.3 1099.7h0M1077.9 1099.6h0M1081.6 1099.5h0M1085.2 1099.4h0M1088.8 1099.3h0M1092.5 1099.2h0M1096.1 1099.2h0M1099.8 1099.1h0M1103.4 1099.1h0M1107.1 1099.0h0M1110.7 1099.0h0M1114.4 1099.0h0M1118.0 1099.0h0M1121.6 1099.0h0M1125.3 1099.0h0M1128.9 1099.0h0M1132.6 1099.1h0M1136.2 1099.1h0M1139.9 1099.2h0M1143.5 1099.2h0M1147.2 1099.3h0M1150.8 1099.4h0M1154.4 1099.5h0M1158.1 1099.6h0M1161.7 1099.7h0M1165.4 1099.8h0M1169.0 1099.9h0M1172.7 1100.1h0M1176.3 1100.3h0M1179.9 1100.4h0M1183.6 1100.6h0M1187.2 1100.8h0M1190.9 1101.1h0M1194.5 1101.3h0M1198.2 1101.5h0M1201.8 1101.8h0M1205.5 1102.0h0M1209.1 1102.2h0M1212.7 1102.5h0M1216.4 1102.8h0M1220.0 1103.0h0M1223.7 1103.3h0M1227.3 1103.5h0M1231.0 1103.8h0M1234.6 1104.1h0M1238.2 1104.3h0M1241.9 1104.6h0M1245.5 1104.9h0M1249.2 1105.1h0M1252.8 1105.4h0M1256.5 1105.7h0M1260.1 1106.0h0M1263.8 1106.2h0M1267.4 1106.5h0M1271.0 1106.8h0M1274.7 1107.1h0M1278.3 1107.3h0M1282.0 1107.6h0M1285.6 1107.9h0M1289.3 1108.2h0M1292.9 1108.4h0M1296.5 1108.7h0M1300.2 1109.0h0M1303.8 1109.3h0M1307.5 1109.6h0M1311.1 1109.8h0M1314.8 1110.1h0M1318.4 1110.4h0M1322.0 1110.7h0M1325.7 1111.0h0M1329.3 1111.2h0M1333.0 1111.5h0M1336.6 1111.8h0M1340.3 1112.1h0M1343.9 1112.4h0M1347.6 1112.6h0M1351.2 1112.9h0M1354.8 1113.2h0M1358.5 1113.5h0M1362.1 1113.8h0M1365.8 1114.0h0M1369.4 1114.3h0M1373.1 1114.6h0M1376.7 1114.9h0M1380.3 1115.2h0M1384.0 1115.5h0M1387.6 1115.7h0M1391.3 1116.0h0M1394.9 1116.3h0M1398.6 1116.6h0M1402.2 1116.9h0M1405.9 1117.1h0M1409.5 1117.4h0" fill="none" stroke="#0000ff" stroke-width="11.7" stroke-linecap="round"/>
<path d="M826.5 1085.3L830.1 1084.8L833.8 1084.4L837.4 1083.9L841.1 1083.5L844.7 1083.1L848.4 1082.6L852.0 1082.2L855.6 1081.7L859.3 1081.3L862.9 1080.8L866.6 1080.4L870.2 1079.9L873.9 1079.5L877.5 1079.0L881.2 1078.6L884.8 1078.1L888.4 1077.7L892.1 1077.2L895.7 1076.8L899.4 1076.4L903.0 1075.9L906.7 1075.5L910.3 1075.0L914.0 1074.6L917.6 1074.1L921.2 1073.7L924.9 1073.2L928.5 1072.8L932.2 1072.4L935.8 1071.9L939.5 1071.5L943.1 1071.0L946.7 1070.6L950.4 1070.1L954.0 1069.7L957.7 1069.3L961.3 1068.8L965.0 1068.4L968.6 1068.0L972.2 1067.5L975.9 1067.1L979.5 1066.6L983.2 1066.2L986.8 1065.8L990.5 1065.3L994.1 1064.9L997.8 1064.5L1001.4 1064.1L1005.0 1063.6L1008.7 1063.2L1012.3 1062.8L1016.0 1062.4L1019.6 1062.0L1023.3 1061.6L1026.9 1061.2L1030.5 1060.8L1034.2 1060.4L1037.8 1060.0L1041.5 1059.6L1045.1 1059.3L1048.8 1058.9L1052.4 1058.6L1056.1 1058.3L1059.7 1058.0L1063.3 1057.8L1067.0 1057.5L1070.6 1057.3L1074.3 1057.1L1077.9 1056.9L1081.6 1056.8L1085.2 1056.6L1088.8 1056.5L1092.5 1056.4L1096.1 1056.3L1099.8 1056.2L1103.4 1056.2L1107.1 1056.1L1110.7 1056.0L1114.4 1056.0L1118.0 1055.9L1121.6 1056.0L1125.3 1056.0L1128.9 1056.1L1132.6 1056.2L1136.2 1056.2L1139.9 1056.3L1143.5 1056.4L1147.2 1056.5L1150.8 1056.6L1154.4 1056.8L1158.1 1056.9L1161.7 1057.1L1165.4 1057.3L1169.0 1057.5L1172.7 1057.8L1176.3 1058.0L1179.9 1058.3L1183.6 1058.6L1187.2 1058.9L1190.9 1059.3L1194.5 1059.6L1198.2 1060.0L1201.8 1060.4L1205.5 1060.8L1209.1 1061.2L1212.7 1061.6L1216.4 1062.0L1220.0 1062.4L1223.7 1062.8L1227.3 1063.2L1231.0 1063.6L1234.6 1064.1L1238.2 1064.5L1241.9 1064.9L1245.5 1065.3L1249.2 1065.8L1252.8 1066.2L1256.5 1066.6L1260.1 1067.1L1263.8 1067.5L1267.4 1068.0L1271.0 1068.4L1274.7 1068.8L1278.3 1069.3L1282.0 1069.7L1285.6 1070.1L1289.3 1070.6L1292.9 1071.0L1296.5 1071.5L1300.2 1071.9L1303.8 1072.4L1307.5 1072.8L1311.1 1073.2L1314.8 1073.7L1318.4 1074.1L1322.0 1074.6L1325.7 1075.0L1329.3 1075.5L1333.0 1075.9L1336.6 1076.4L1340.3 1076.8L1343.9 1077.2L1347.6 1077.7L1351.2 1078.1L1354.8 1078.6L1358.5 1079.0L1362.1 1079.5L1365.8 1079.9L1369.4 1080.4L1373.1 1080.8L1376.7 1081.3L1380.3 1081.7L1384.0 1082.2L1387.6 1082.6L1391.3 1083.1L1394.9 1083.5L1398.6 1083.9L1402.2 1084.4L1405.9 1084.8L1409.5 1085.3" fill="none" stroke="#8000ff" stroke-width="2.0" stroke-linejoin="round" stroke-linecap="round"/>
<path d="M826.5 1085.3h0M830.1 1084.8h0M833.8 1084.4h0M837.4 1083.9h0M841.1 1083.5h0M844.7 1083.1h0M848.4 1082.6h0M852.0 1082.2h0M855.6 1081.7h0M859.3 1081.3h0M862.9 1080.8h0M866.6 1080.4h0M870.2 1079.9h0M873.9 1079.5h0M877.5 1079.0h0M881.2 1078.6h0M884.8 1078.1h0M888.4 1077.7h0M892.1 1077.2h0M895.7 1076.8h0M899.4 1076.4h0M903.0 1075.9h0M906.7 1075.5h0M910.3 1075.0h0M914.0 1074.6h0M917.6 1074.1h0M921.2 1073.7h0M924.9 1073.2h0M928.5 1072.8h0M932.2 1072.4h0M935.8 1071.9h0M939.5 1071.5h0M943.1 1071.0h0M946.7 1070.6h0M950.4 1070.1h0M954.0 1069.7h0M957.7 1069.3h0M961.3 1068.8h0M965.0 1068.4h0M968.6 1068.0h0M972.2 1067.5h0M975.9 1067.1h0M979.5 1066.6h0M983.2 1066.2h0M986.8 1065.8h0M990.5 1065.3h0M994.1 1064.9h0M997.8 1064.5h0M1001.4 1064.1h0M1005.0 1063.6h0M1008.7 1063.2h0M1012.3 1062.8h0M1016.0 1062.4h0M1019.6 1062.0h0M1023.3 1061.6h0M1026.9 1061.2h0M1030.5 1060.8h0M1034.2 1060.4h0M1037.8 1060.0h0M1041.5 1059.6h0M1045.1 1059.3h0M1048.8 1058.9h0M1052.4 1058.6h0M1056.1 1058.3h0M1059.7 1058.0h0M1063.3 1057.8h0M1067.0 1057.5h0M1070.6 1057.3h0M1074.3 1057.1h0M1077.9 1056.9h0M1081.6 1056.8h0M1085.2 1056.6h0M1088.8 1056.5h0M1092.5 1056.4h0M1096.1 1056.3h0M1099.8 1056.2h0M1103.4 1056.2h0M1107.1 1056.1h0M1110.7 1056.0h0M1114.4 1056.0h0M1118.0 1055.9h0M1121.6 1056.0h0M1125.3 1056.0h0M1128.9 1056.1h0M1132.6 1056.2h0M1136.2 1056.2h0M1139.9 1056.3h0M1143.5 1056.4h0M1147.2 1056.5h0M1150.8 1056.6h0M1154.4 1056.8h0M1158.1 1056.9h0M1161.7 1057.1h0M1165.4 1057.3h0M1169.0 1057.5h0M1172.7 1057.8h0M1176.3 1058.0h0M1179.9 1058.3h0M1183.6 1058.6h0M1187.2 1058.9h0M1190.9 1059.3h0M1194.5 1059.6h0M1198.2 1060.0h0M1201.8 1060.4h0M1205.5 1060.8h0M1209.1 1061.2h0M1212.7 1061.6h0M1216.4 1062.0h0M1220.0 1062.4h0M1223.7 1062.8h0M1227.3 1063.2h0M1231.0 1063.6h0M1234.6 1064.1h0M1238.2 1064.5h0M1241.9 1064.9h0M1245.5 1065.3h0M1249.2 1065.8h0M1252.8 1066.2h0M1256.5 1066.6h0M1260.1 1067.1h0M1263.8 1067.5h0M1267.4 1068.0h0M1271.0 1068.4h0M1274.7 1068.8h0M1278.3 1069.3h0M1282.0 1069.7h0M1285.6 1070.1h0M1289.3 1070.6h0M1292.9 1071.0h0M1296.5 1071.5h0M1300.2 1071.9h0M1303.8 1072.4h0M1307.5 1072.8h0M1311.1 1073.2h0M1314.8 1073.7h0M1318.4 1074.1h0M1322.0 1074.6h0M1325.7 1075.0h0M1329.3 1075.5h0M1333.0 1075.9h0M1336.6 1076.4h0M1340.3 1076.8h0M1343.9 1077.2h0M1347.6 1077.7h0M1351.2 1078.1h0M1354.8 1078.6h0M1358.5 1079.0h0M1362.1 1079.5h0M1365.8 1079.9h0M1369.4 1080.4h0M1373.1 1080.8h0M1376.7 1081.3h0M1380.3 1081.7h0M1384.0 1082.2h0M1387.6 1082.6h0M1391.3 1083.1h0M1394.9 1083.5h0M1398.6 1083.9h0M1402.2 1084.4h0M1405.9 1084.8h0M1409.5 1085.3h0" fill="none" stroke="#8000ff" stroke-width="11.7" stroke-linecap="round"/>
<path d="M826.5 1045.3L830.1 1044.7L833.8 1044.0L837.4 1043.3L841.1 1042.7L844.7 1042.0L848.4 1041.3L852.0 1040.7L855.6 1040.0L859.3 1039.3L862.9 1038.7L866.6 1038.0L870.2 1037.4L873.9 1036.7L877.5 1036.0L881.2 1035.4L884.8 1034.7L888.4 1034.1L892.1 1033.4L895.7 1032.7L899.4 1032.1L903.0 1031.4L906.7 1030.7L910.3 1030.1L914.0 1029.4L917.6 1028.8L921.2 1028.1L924.9 1027.5L928.5 1026.8L932.2 1026.1L935.8 1025.5L939.5 1024.8L943.1 1024.2L946.7 1023.5L950.4 1022.9L954.0 1022.2L957.7 1021.6L961.3 1020.9L965.0 1020.3L968.6 1019.6L972.2 1019.0L975.9 1018.3L979.5 1017.7L983.2 1017.0L986.8 1016.4L990.5 1015.7L994.1 1015.1L997.8 1014.5L1001.4 1013.8L1005.0 1013.2L1008.7 1012.6L1012.3 1012.0L1016.0 1011.4L1019.6 1010.8L1023.3 1010.2L1026.9 1009.6L1030.5 1009.0L1034.2 1008.4L1037.8 1007.8L1041.5 1007.3L1045.1 1006.8L1048.8 1006.3L1052.4 1005.8L1056.1 1005.3L1059.7 1004.9L1063.3 1004.5L1067.0 1004.1L1070.6 1003.8L1074.3 1003.5L1077.9 1003.2L1081.6 1003.0L1085.2 1002.8L1088.8 1002.6L1092.5 1002.5L1096.1 1002.3L1099.8 1002.2L1103.4 1002.1L1107.1 1002.0L1110.7 1001.9L1114.4 1001.9L1118.0 1001.8L1121.6 1001.9L1125.3 1001.9L1128.9 1002.0L1132.6 1002.1L1136.2 1002.2L1139.9 1002.3L1143.5 1002.5L1147.2 1002.6L1150.8 1002.8L1154.4 1003.0L1158.1 1003.2L1161.7 1003.5L1165.4 1003.8L1169.0 1004.1L1172.7 1004.5L1176.3 1004.9L1179.9 1005.3L1183.6 1005.8L1187.2 1006.3L1190.9 1006.8L1194.5 1007.3L1198.2 1007.8L1201.8 1008.4L1205.5 1009.0L1209.1 1009.6L1212.7 1010.2L1216.4 1010.8L1220.0 1011.4L1223.7 1012.0L1227.3 1012.6L1231.0 1013.2L1234.6 1013.8L1238.2 1014.5L1241.9 1015.1L1245.5 1015.7L1249.2 1016.4L1252.8 1017.0L1256.5 1017.7L1260.1 1018.3L1263.8 1019.0L1267.4 1019.6L1271.0 1020.3L1274.7 1020.9L1278.3 1021.6L1282.0 1022.2L1285.6 1022.9L1289.3 1023.5L1292.9 1024.2L1296.5 1024.8L1300.2 1025.5L1303.8 1026.1L1307.5 1026.8L1311.1 1027.5L1314.8 1028.1L1318.4 1028.8L1322.0 1029.4L1325.7 1030.1L1329.3 1030.7L1333.0 1031.4L1336.6 1032.1L1340.3 1032.7L1343.9 1033.4L1347.6 1034.1L1351.2 1034.7L1354.8 1035.4L1358.5 1036.0L1362.1 1036.7L1365.8 1037.4L1369.4 1038.0L1373.1 1038.7L1376.7 1039.3L1380.3 1040.0L1384.0 1040.7L1387.6 1041.3L1391.3 1042.0L1394.9 1042.7L1398.6 1043.3L1402.2 1044.0L1405.9 1044.7L1409.5 1045.3" fill="none" stroke="#ff0000" stroke-width="2.0" stroke-linejoin="round" stroke-linecap="round"/>
<path d="M826.5 1045.3h0M830.1 1044.7h0M833.8 1044.0h0M837.4 1043.3h0M841.1 1042.7h0M844.7 1042.0h0M848.4 1041.3h0M852.0 1040.7h0M855.6 1040.0h0M859.3 1039.3h0M862.9 1038.7h0M866.6 1038.0h0M870.2 1037.4h0M873.9 1036.7h0M877.5 1036.0h0M881.2 1035.4h0M884.8 1034.7h0M888.4 1034.1h0M892.1 1033.4h0M895.7 1032.7h0M899.4 1032.1h0M903.0 1031.4h0M906.7 1030.7h0M910.3 1030.1h0M914.0 1029.4h0M917.6 1028.8h0M921.2 1028.1h0M924.9 1027.5h0M928.5 1026.8h0M932.2 1026.1h0M935.8 1025.5h0M939.5 1024.8h0M943.1 1024.2h0M946.7 1023.5h0M950.4 1022.9h0M954.0 1022.2h0M957.7 1021.6h0M961.3 1020.9h0M965.0 1020.3h0M968.6 1019.6h0M972.2 1019.0h0M975.9 1018.3h0M979.5 1017.7h0M983.2 1017.0h0M986.8 1016.4h0M990.5 1015.7h0M994.1 1015.1h0M997.8 1014.5h0M1001.4 1013.8h0M1005.0 1013.2h0M1008.7 1012.6h0M1012.3 1012.0h0M1016.0 1011.4h0M1019.6 1010.8h0M1023.3 1010.2h0M1026.9 1009.6h0M1030.5 1009.0h0M1034.2 1008.4h0M1037.8 1007.8h0M1041.5 1007.3h0M1045.1 1006.8h0M1048.8 1006.3h0M1052.4 1005.8h0M1056.1 1005.3h0M1059.7 1004.9h0M1063.3 1004.5h0M1067.0 1004.1h0M1070.6 1003.8h0M1074.3 1003.5h0M1077.9 1003.2h0M1081.6 1003.0h0M1085.2 1002.8h0M1088.8 1002.6h0M1092.5 1002.5h0M1096.1 1002.3h0M1099.8 1002.2h0M1103.4 1002.1h0M1107.1 1002.0h0M1110.7 1001.9h0M1114.4 1001.9h0M1118.0 1001.8h0M1121.6 1001.9h0M1125.3 1001.9h0M1128.9 1002.0h0M1132.6 1002.1h0M1136.2 1002.2h0M1139.9 1002.3h0M1143.5 1002.5h0M1147.2 1002.6h0M1150.8 1002.8h0M1154.4 1003.0h0M1158.1 1003.2h0M1161.7 1003.5h0M1165.4 1003.8h0M1169.0 1004.1h0M1172.7 1004.5h0M1176.3 1004.9h0M1179.9 1005.3h0M1183.6 1005.8h0M1187.2 1006.3h0M1190.9 1006.8h0M1194.5 1007.3h0M1198.2 1007.8h0M1201.8 1008.4h0M1205.5 1009.0h0M1209.1 1009.6h0M1212.7 1010.2h0M1216.4 1010.8h0M1220.0 1011.4h0M1223.7 1012.0h0M1227.3 1012.6h0M1231.0 1013.2h0M1234.6 1013.8h0M1238.2 1014.5h0M1241.9 1015.1h0M1245.5 1015.7h0M1249.2 1016.4h0M1252.8 1017.0h0M1256.5 1017.7h0M1260.1 1018.3h0M1263.8 1019.0h0M1267.4 1019.6h0M1271.0 1020.3h0M1274.7 1020.9h0M1278.3 1021.6h0M1282.0 1022.2h0M1285.6 1022.9h0M1289.3 1023.5h0M1292.9 1024.2h0M1296.5 1024.8h0M1300.2 1025.5h0M1303.8 1026.1h0M1307.5 1026.8h0M1311.1 1027.5h0M1314.8 1028.1h0M1318.4 1028.8h0M1322.0 1029.4h0M1325.7 1030.1h0M1329.3 1030.7h0M1333.0 1031.4h0M1336.6 1032.1h0M1340.3 1032.7h0M1343.9 1033.4h0M1347.6 1034.1h0M1351.2 1034.7h0M1354.8 1035.4h0M1358.5 1036.0h0M1362.1 1036.7h0M1365.8 1037.4h0M1369.4 1038.0h0M1373.1 1038.7h0M1376.7 1039.3h0M1380.3 1040.0h0M1384.0 1040.7h0M1387.6 1041.3h0M1391.3 1042.0h0M1394.9 1042.7h0M1398.6 1043.3h0M1402.2 1044.0h0M1405.9 1044.7h0M1409.5 1045.3h0" fill="none" stroke="#ff0000" stroke-width="11.7" stroke-linecap="round"/>
</g>
<text transform="translate(817.5 1190.1) scale(1 1.055)" class="tlh" text-anchor="end">298</text>
<text transform="translate(817.5 1139.5) scale(1 1.055)" class="tlh" text-anchor="end">300</text>
<text transform="translate(817.5 1088.9) scale(1 1.055)" class="tlh" text-anchor="end">302</text>
<text transform="translate(817.5 1038.3) scale(1 1.055)" class="tlh" text-anchor="end">304</text>
<text transform="translate(817.5 987.7) scale(1 1.055)" class="tlh" text-anchor="end">306</text>
<text transform="translate(817.5 937.1) scale(1 1.055)" class="tlh" text-anchor="end">308</text>
<text transform="translate(817.5 886.5) scale(1 1.055)" class="tlh" text-anchor="end">310</text>
<text transform="translate(817.5 835.9) scale(1 1.055)" class="tlh" text-anchor="end">312</text>
<text transform="translate(817.5 785.3) scale(1 1.055)" class="tlh" text-anchor="end">314</text>
<text transform="translate(825.5 1230.0) scale(1 1.055)" class="tlh" text-anchor="middle">0</text>
<text transform="translate(969.5 1230.0) scale(1 1.055)" class="tlh" text-anchor="middle">20</text>
<text transform="translate(1117.5 1230.0) scale(1 1.055)" class="tlh" text-anchor="middle">40</text>
<text transform="translate(1260.5 1230.0) scale(1 1.055)" class="tlh" text-anchor="middle">60</text>
<text transform="translate(1406.0 1230.0) scale(1 1.055)" class="tlh" text-anchor="middle">80</text>
<text transform="translate(739.7 968.0) rotate(-90)" class="yth" text-anchor="middle">Temperature (K)</text>
<text transform="translate(1128.5 1270.8) scale(1 1.036)" class="ath" text-anchor="middle" xml:space="preserve" style="white-space:pre">Distance from  CPW 3 (µm)</text>
<text transform="translate(1330.0 826.0)" class="pg">(h)</text>
<text transform="translate(866.0 818.0)" class="lth"><tspan font-style="italic">J</tspan><tspan class="sub" dy="8.4">DC</tspan><tspan dy="-8.4"> (GA.m</tspan><tspan class="sup" dy="-15.9">-2</tspan><tspan dy="15.9">)</tspan></text>
<path d="M856.0 860.7H925.8" stroke="#000000" stroke-width="4" stroke-linecap="round"/>
<circle cx="890.9" cy="860.7" r="5.8" fill="#000000"/>
<text transform="translate(935.7 874.1) scale(1 1.115)" class="ll">0</text>
<path d="M856.0 896.2H925.8" stroke="#808000" stroke-width="4" stroke-linecap="round"/>
<circle cx="890.9" cy="896.2" r="5.8" fill="#808000"/>
<text transform="translate(935.7 909.6) scale(1 1.115)" class="ll">1.5</text>
<path d="M856.0 932.3H925.8" stroke="#408080" stroke-width="4" stroke-linecap="round"/>
<circle cx="890.9" cy="932.3" r="5.8" fill="#408080"/>
<text transform="translate(935.5 945.7) scale(1 1.115)" class="ll">3.0</text>
<path d="M856.0 967.5H925.8" stroke="#ff8000" stroke-width="4" stroke-linecap="round"/>
<circle cx="890.9" cy="967.5" r="5.8" fill="#ff8000"/>
<text transform="translate(935.5 980.9) scale(1 1.115)" class="ll">4.5</text>
<path d="M1202.0 857.3H1271.8" stroke="#008000" stroke-width="4" stroke-linecap="round"/>
<circle cx="1236.9" cy="857.3" r="5.8" fill="#008000"/>
<text transform="translate(1281.0 870.7) scale(1 1.115)" class="ll">6.0</text>
<path d="M1202.0 892.8H1271.8" stroke="#0000ff" stroke-width="4" stroke-linecap="round"/>
<circle cx="1236.9" cy="892.8" r="5.8" fill="#0000ff"/>
<text transform="translate(1284.0 906.2) scale(1 1.115)" class="ll">7.5</text>
<path d="M1202.0 927.5H1271.8" stroke="#8000ff" stroke-width="4" stroke-linecap="round"/>
<circle cx="1236.9" cy="927.5" r="5.8" fill="#8000ff"/>
<text transform="translate(1282.0 940.9) scale(1 1.115)" class="ll">9.0</text>
<path d="M1202.0 963.5H1271.8" stroke="#ff0000" stroke-width="4" stroke-linecap="round"/>
<circle cx="1236.9" cy="963.5" r="5.8" fill="#ff0000"/>
<text transform="translate(1284.0 976.9) scale(1 1.115)" class="ll">10.5</text>
</svg></body></html>
